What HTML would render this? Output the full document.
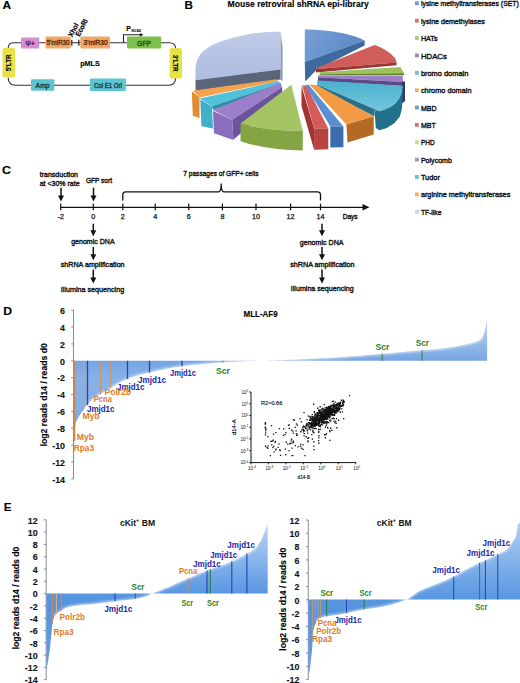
<!DOCTYPE html>
<html><head><meta charset="utf-8"><title>Figure</title>
<style>
html,body{margin:0;padding:0;background:#fff;}
body{width:520px;height:683px;overflow:hidden;}
svg{display:block;font-family:"Liberation Sans",sans-serif;}
</style></head><body>
<svg width="520" height="683" viewBox="0 0 520 683">
<defs>
<filter id="soft" x="-5%" y="-5%" width="110%" height="110%"><feGaussianBlur stdDeviation="0.9"/></filter>
<linearGradient id="gAq" gradientUnits="userSpaceOnUse" x1="0" y1="82" x2="0" y2="111">
 <stop offset="0" stop-color="#4cb2cf"/><stop offset="1" stop-color="#74c6dc"/></linearGradient>
<linearGradient id="gTF" gradientUnits="userSpaceOnUse" x1="0" y1="32" x2="0" y2="80">
 <stop offset="0" stop-color="#bfcbe8"/><stop offset="1" stop-color="#adbde0"/></linearGradient>
<linearGradient id="gSET" gradientUnits="userSpaceOnUse" x1="305" y1="30" x2="345" y2="60">
 <stop offset="0" stop-color="#77a0d6"/><stop offset="1" stop-color="#5d8bc8"/></linearGradient>
<linearGradient id="gD" gradientUnits="userSpaceOnUse" x1="0" y1="318" x2="0" y2="440">
 <stop offset="0" stop-color="#c4d8f4"/><stop offset="0.352" stop-color="#76a5e2"/><stop offset="0.5" stop-color="#88b2e8"/><stop offset="1" stop-color="#7eaae5"/></linearGradient>
<linearGradient id="gE1" gradientUnits="userSpaceOnUse" x1="0" y1="523" x2="0" y2="671">
 <stop offset="0" stop-color="#bcd6f6"/><stop offset="0.48" stop-color="#5896e2"/><stop offset="0.56" stop-color="#5592de"/><stop offset="1" stop-color="#6a9ee2"/></linearGradient>
<linearGradient id="gE2" gradientUnits="userSpaceOnUse" x1="0" y1="514" x2="0" y2="674">
 <stop offset="0" stop-color="#bcd6f6"/><stop offset="0.535" stop-color="#5896e2"/><stop offset="0.61" stop-color="#5592de"/><stop offset="1" stop-color="#6a9ee2"/></linearGradient>
</defs>
<rect width="520" height="683" fill="#fff"/>
<text x="2.60" y="9.20" font-size="11" fill="#000" stroke="#000" stroke-width="0.12" font-weight="bold" textLength="8.60" lengthAdjust="spacingAndGlyphs" >A</text>
<path d="M8.2,48 Q8.2,42.8 14,42.8 L169,42.8 Q175.6,42.8 175.6,48.5" fill="none" stroke="#333" stroke-width="1.1"/>
<path d="M8.2,77.5 Q8.2,85.2 15.5,85.2 L168.5,85.2 Q175.6,85.2 175.6,78" fill="none" stroke="#333" stroke-width="1.1"/>
<rect x="21" y="37.5" width="18.2" height="11" rx="1" fill="#d58ed0"/>
<text x="30.10" y="45.80" font-size="6.5" fill="#5a2a5a" stroke="#5a2a5a" stroke-width="0.4" text-anchor="middle" textLength="9.00" lengthAdjust="spacingAndGlyphs" >Ψ+</text>
<rect x="45.4" y="36.4" width="25.4" height="12.2" rx="1" fill="#f2a869"/>
<text x="58.10" y="45.40" font-size="7.2" fill="#5a3210" stroke="#5a3210" stroke-width="0.4" text-anchor="middle" textLength="23.00" lengthAdjust="spacingAndGlyphs" >5'miR30</text>
<rect x="80.3" y="36.4" width="29.7" height="12.2" rx="1" fill="#f2a869"/>
<text x="95.60" y="45.40" font-size="7.2" fill="#5a3210" stroke="#5a3210" stroke-width="0.4" text-anchor="middle" textLength="24.00" lengthAdjust="spacingAndGlyphs" >3'miR30</text>
<rect x="127" y="36.6" width="34.2" height="11.9" rx="1" fill="#7dc04d"/>
<text x="144.10" y="45.50" font-size="7.5" fill="#2c4a18" stroke="#2c4a18" stroke-width="0.4" text-anchor="middle" textLength="14.00" lengthAdjust="spacingAndGlyphs" >GFP</text>
<line x1="71.80" y1="39.80" x2="71.80" y2="45.80" stroke="#222" stroke-width="1.2" />
<line x1="78.80" y1="39.80" x2="78.80" y2="45.80" stroke="#222" stroke-width="1.2" />
<text transform="translate(72.30,37.60) rotate(-63)" x="0" y="0" font-size="7.2" fill="#000" stroke="#000" stroke-width="0.2" font-weight="bold" text-anchor="start" textLength="14.50" lengthAdjust="spacingAndGlyphs">XhoI</text>
<text transform="translate(79.60,37.00) rotate(-63)" x="0" y="0" font-size="7.2" fill="#000" stroke="#000" stroke-width="0.2" font-weight="bold" text-anchor="start" textLength="18.50" lengthAdjust="spacingAndGlyphs">EcoRI</text>
<path d="M123.5,42.8 V34.8 H140.5" fill="none" stroke="#222" stroke-width="1.1"/>
<polygon points="143.50,34.80 139.80,32.90 139.80,36.70" fill="#222" />
<text x="126.20" y="31.00" font-size="7" fill="#000" stroke="#000" stroke-width="0.12" font-weight="bold" textLength="4.60" lengthAdjust="spacingAndGlyphs" >P</text>
<text x="131.20" y="32.40" font-size="4.4" fill="#000" stroke="#000" stroke-width="0.05" font-weight="bold" textLength="9.80" lengthAdjust="spacingAndGlyphs" >SV40</text>
<rect x="2.5" y="48" width="12.6" height="29.6" rx="2" fill="#e8e246"/>
<text transform="translate(11.30,62.80) rotate(-90)" x="0" y="0" font-size="6.8" fill="#000" stroke="#000" stroke-width="0.12" font-weight="bold" text-anchor="middle" textLength="17.00" lengthAdjust="spacingAndGlyphs">5'LTR</text>
<rect x="169.6" y="48" width="12.4" height="30.4" rx="2" fill="#e8e246"/>
<text transform="translate(173.30,63.20) rotate(90)" x="0" y="0" font-size="6.8" fill="#000" stroke="#000" stroke-width="0.12" font-weight="bold" text-anchor="middle" textLength="17.00" lengthAdjust="spacingAndGlyphs">3'LTR</text>
<rect x="31" y="79.2" width="23.3" height="11.6" rx="1" fill="#5ec4d4"/>
<text x="42.60" y="87.80" font-size="7.2" fill="#17454c" stroke="#17454c" stroke-width="0.4" text-anchor="middle" textLength="14.00" lengthAdjust="spacingAndGlyphs" >Amp</text>
<rect x="89.9" y="78.4" width="36" height="12.6" rx="1" fill="#5ec4d4"/>
<text x="107.90" y="87.60" font-size="6.8" fill="#17454c" stroke="#17454c" stroke-width="0.4" text-anchor="middle" textLength="28.00" lengthAdjust="spacingAndGlyphs" >Col E1 Ori</text>
<text x="80.20" y="66.20" font-size="7.6" fill="#000" stroke="#000" stroke-width="0.12" font-weight="bold" textLength="19.60" lengthAdjust="spacingAndGlyphs" >pMLS</text>
<text x="184.60" y="9.00" font-size="11" fill="#000" stroke="#000" stroke-width="0.12" font-weight="bold" textLength="8.40" lengthAdjust="spacingAndGlyphs" >B</text>
<text x="227.60" y="7.20" font-size="8.6" fill="#000" stroke="#000" stroke-width="0.12" font-weight="bold" textLength="141.20" lengthAdjust="spacingAndGlyphs" >Mouse retroviral shRNA epi-library</text>
<polygon points="195.40,80.20 195.50,68.00 195.51,67.89 195.51,67.78 195.52,67.65 195.52,67.51 195.52,67.35 195.53,67.17 195.55,66.97 195.57,66.74 195.61,66.48 195.65,66.19 195.72,65.86 195.80,65.50 195.90,65.09 196.00,64.62 196.12,64.10 196.24,63.54 196.38,62.96 196.53,62.36 196.69,61.74 196.87,61.12 197.05,60.51 197.25,59.91 197.47,59.34 197.70,58.80 197.94,58.28 198.20,57.77 198.47,57.26 198.75,56.76 199.05,56.27 199.36,55.78 199.68,55.30 200.01,54.83 200.36,54.36 200.73,53.90 201.11,53.45 201.50,53.00 201.91,52.56 202.34,52.13 202.79,51.71 203.25,51.29 203.73,50.88 204.22,50.48 204.72,50.09 205.23,49.70 205.74,49.31 206.26,48.94 206.78,48.57 207.30,48.20 207.82,47.84 208.33,47.50 208.84,47.16 209.36,46.83 209.88,46.51 210.41,46.19 210.95,45.87 211.51,45.56 212.09,45.25 212.70,44.93 213.33,44.62 214.00,44.30 214.70,43.98 215.44,43.65 216.22,43.32 217.01,42.99 217.83,42.66 218.67,42.34 219.51,42.01 220.36,41.70 221.21,41.38 222.05,41.08 222.89,40.78 223.70,40.50 224.51,40.22 225.34,39.95 226.17,39.68 227.01,39.41 227.85,39.15 228.69,38.90 229.51,38.66 230.32,38.42 231.11,38.20 231.87,37.99 232.60,37.79 233.30,37.60 233.95,37.43 234.55,37.29 235.11,37.16 235.64,37.05 236.15,36.95 236.65,36.86 237.15,36.76 237.66,36.67 238.19,36.57 238.75,36.46 239.35,36.34 240.00,36.20 240.70,36.04 241.42,35.87 242.18,35.69 242.96,35.50 243.75,35.30 244.57,35.10 245.40,34.90 246.23,34.70 247.08,34.51 247.92,34.33 248.76,34.16 249.60,34.00 250.44,33.85 251.29,33.71 252.15,33.57 253.02,33.44 253.90,33.32 254.77,33.20 255.65,33.09 256.53,32.98 257.41,32.88 258.28,32.78 259.14,32.69 260.00,32.60 260.85,32.52 261.68,32.45 262.51,32.39 263.34,32.33 264.16,32.28 264.99,32.23 265.81,32.19 266.64,32.15 267.47,32.11 268.30,32.07 269.15,32.04 270.00,32.00 270.90,31.96 271.85,31.93 272.86,31.90 273.88,31.87 274.91,31.84 275.93,31.81 276.90,31.79 277.83,31.77 278.68,31.75 279.44,31.73 280.09,31.71 280.60,31.70 280.60,69.40" fill="url(#gTF)" />
<polygon points="195.40,80.20 280.60,69.40 280.60,79.60 195.70,90.80" fill="#5b6579" />
<polygon points="280.60,31.70 282.60,47.90 282.60,81.20 280.60,79.60" fill="#8f9ab0" />
<path d="M304.8,29.3 C318,29.6 332,31 344,33.6 C352,35.3 358.5,37.6 364.6,40.4 L304.8,62 Z" fill="url(#gSET)"/>
<polygon points="304.80,62.00 364.60,40.40 364.60,45.50 317.00,69.50 305.20,81.40" fill="#3d6a9c" />
<path d="M316,68.2 L374.6,45 C381,47 387,50.5 391,54 C394,56.5 396,59 396.5,62.4 L316,68.9 Z" fill="#cf5e5b"/>
<polygon points="316.00,68.90 396.50,62.40 396.50,65.20 316.00,72.50" fill="#9c3634" />
<polygon points="319.60,72.30 400.40,66.90 404.00,73.30 319.60,74.20" fill="#9cc15b" />
<polygon points="319.60,74.20 404.00,73.30 404.00,74.90 319.60,75.30" fill="#5e7d2a" />
<polygon points="318.00,75.40 402.80,75.40 402.80,82.00 318.00,77.20" fill="#9a80c6" />
<polygon points="318.00,77.20 402.80,82.00 402.80,86.00 318.00,81.00" fill="#5d4986" />
<polygon points="401.80,81.50 405.00,81.50 405.00,101.00 402.00,103.50" fill="#3a3466" />
<polygon points="317.20,80.60 403.00,85.80 402.70,88.00 401.50,93.00 398.80,99.20 395.50,103.20 392.10,106.00 388.00,108.20 384.40,109.80 379.60,111.25 317.20,84.60" fill="url(#gAq)" />
<polygon points="403.00,85.80 402.70,88.00 401.50,93.00 398.80,99.20 395.50,103.20 392.10,106.00 388.00,108.20 384.40,109.80 379.60,111.25 374.50,110.20 375.80,128.00 379.60,130.20 386.30,128.20 394.00,123.50 399.80,116.80 401.90,108.80 402.60,96.00 403.00,85.80" fill="#22708a" />
<polygon points="317.20,84.60 379.60,111.25 374.50,110.20 374.50,116.50 317.20,87.20" fill="#2b6f87" />
<polygon points="192.80,90.80 276.50,79.30 278.40,81.20 199.50,97.60" fill="#f5a24c" />
<polygon points="191.80,91.60 199.50,97.60 199.50,118.00 192.80,115.80" fill="#e38b2e" />
<polygon points="199.50,98.40 278.40,81.30 280.30,83.30 212.00,106.20" fill="#4fc1da" />
<polygon points="212.00,106.20 280.30,83.30 280.30,86.00 213.00,110.00" fill="#2f8ea6" />
<polygon points="200.30,99.40 212.00,106.60 213.00,128.40 201.40,126.30" fill="#3fb0c8" />
<polygon points="213.00,110.20 280.30,82.60 282.20,87.00 232.20,119.70" fill="#9c7fcb" />
<polygon points="232.20,119.70 282.20,87.00 282.20,96.50 233.40,139.80" fill="#6c549c" />
<polygon points="213.00,111.00 232.20,119.70 233.40,139.90 214.00,133.20" fill="#8a6dbb" />
<path d="M240.5,123.5 L291.3,84.7 L302.8,130.8 Q268,131.5 240.5,123.5 Z" fill="#a5c565"/>
<path d="M240.5,123.5 Q268,131.5 302.8,130.8 L302.8,150.6 Q268,150.5 240.5,141.2 Z" fill="#83a544"/>
<polygon points="301.50,86.00 314.10,128.50 314.10,149.80 301.50,106.00" fill="#a23434" />
<polygon points="302.20,85.60 306.20,85.60 328.30,128.50 314.10,128.50" fill="#d35c58" />
<polygon points="314.10,128.50 328.30,128.50 328.30,149.20 314.10,149.80" fill="#b84240" />
<polygon points="305.20,85.20 308.40,84.40 343.40,126.60 330.30,126.60" fill="#5b8fd2" />
<polygon points="330.30,126.60 343.40,126.60 343.40,147.20 330.30,147.60" fill="#3a6cae" />
<polygon points="309.20,84.20 317.20,85.20 373.70,116.40 346.40,124.60" fill="#f39a45" />
<polygon points="346.40,124.60 373.70,116.40 373.70,134.60 347.50,142.60" fill="#b46a22" />
<rect x="415" y="1.40" width="3.8" height="3.8" fill="#4f81bd" fill-opacity="0.8"/>
<text x="420.90" y="6.40" font-size="7.8" fill="#111" stroke="#111" stroke-width="0.4" textLength="98.00" lengthAdjust="spacingAndGlyphs" >lysine methyltransferases (SET)</text>
<rect x="415" y="18.77" width="3.8" height="3.8" fill="#c0504d" fill-opacity="0.8"/>
<text x="420.90" y="23.77" font-size="7.8" fill="#111" stroke="#111" stroke-width="0.4" textLength="64.00" lengthAdjust="spacingAndGlyphs" >lysine demethylases</text>
<rect x="415" y="36.14" width="3.8" height="3.8" fill="#9bbb59" fill-opacity="0.8"/>
<text x="420.90" y="41.14" font-size="7.8" fill="#111" stroke="#111" stroke-width="0.4" textLength="16.60" lengthAdjust="spacingAndGlyphs" >HATs</text>
<rect x="415" y="53.51" width="3.8" height="3.8" fill="#8064a2" fill-opacity="0.8"/>
<text x="420.90" y="58.51" font-size="7.8" fill="#111" stroke="#111" stroke-width="0.4" textLength="26.00" lengthAdjust="spacingAndGlyphs" >HDACs</text>
<rect x="415" y="70.88" width="3.8" height="3.8" fill="#4bacc6" fill-opacity="0.8"/>
<text x="420.90" y="75.88" font-size="7.8" fill="#111" stroke="#111" stroke-width="0.4" textLength="47.40" lengthAdjust="spacingAndGlyphs" >bromo domain</text>
<rect x="415" y="88.25" width="3.8" height="3.8" fill="#f79646" fill-opacity="0.8"/>
<text x="420.90" y="93.25" font-size="7.8" fill="#111" stroke="#111" stroke-width="0.4" textLength="50.60" lengthAdjust="spacingAndGlyphs" >chromo domain</text>
<rect x="415" y="105.62" width="3.8" height="3.8" fill="#4f81bd" fill-opacity="0.8"/>
<text x="420.90" y="110.62" font-size="7.8" fill="#111" stroke="#111" stroke-width="0.4" textLength="15.60" lengthAdjust="spacingAndGlyphs" >MBD</text>
<rect x="415" y="122.99" width="3.8" height="3.8" fill="#c0504d" fill-opacity="0.8"/>
<text x="420.90" y="127.99" font-size="7.8" fill="#111" stroke="#111" stroke-width="0.4" textLength="14.90" lengthAdjust="spacingAndGlyphs" >MBT</text>
<rect x="415" y="140.36" width="3.8" height="3.8" fill="#b8d08a" fill-opacity="0.8"/>
<text x="420.90" y="145.36" font-size="7.8" fill="#111" stroke="#111" stroke-width="0.4" textLength="13.70" lengthAdjust="spacingAndGlyphs" >PHD</text>
<rect x="415" y="157.73" width="3.8" height="3.8" fill="#8a7cab" fill-opacity="0.8"/>
<text x="420.90" y="162.73" font-size="7.8" fill="#111" stroke="#111" stroke-width="0.4" textLength="31.00" lengthAdjust="spacingAndGlyphs" >Polycomb</text>
<rect x="415" y="175.10" width="3.8" height="3.8" fill="#4bacc6" fill-opacity="0.8"/>
<text x="420.90" y="180.10" font-size="7.8" fill="#111" stroke="#111" stroke-width="0.4" textLength="19.00" lengthAdjust="spacingAndGlyphs" >Tudor</text>
<rect x="415" y="192.47" width="3.8" height="3.8" fill="#f79646" fill-opacity="0.8"/>
<text x="420.90" y="197.47" font-size="7.8" fill="#111" stroke="#111" stroke-width="0.4" textLength="89.40" lengthAdjust="spacingAndGlyphs" >arginine methyltransferases</text>
<rect x="415" y="209.84" width="3.8" height="3.8" fill="#b9c9e3" fill-opacity="0.8"/>
<text x="420.90" y="214.84" font-size="7.8" fill="#111" stroke="#111" stroke-width="0.4" textLength="20.60" lengthAdjust="spacingAndGlyphs" >TF-like</text>
<text x="2.00" y="174.30" font-size="11.6" fill="#000" stroke="#000" stroke-width="0.12" font-weight="bold" textLength="9.00" lengthAdjust="spacingAndGlyphs" >C</text>
<text x="39.70" y="177.20" font-size="7.8" fill="#111" stroke="#111" stroke-width="0.4" textLength="38.30" lengthAdjust="spacingAndGlyphs" >transduction</text>
<text x="39.70" y="185.60" font-size="7.8" fill="#111" stroke="#111" stroke-width="0.4" textLength="39.90" lengthAdjust="spacingAndGlyphs" >at &lt;30% rate</text>
<text x="85.90" y="183.00" font-size="7.8" fill="#111" stroke="#111" stroke-width="0.4" textLength="26.10" lengthAdjust="spacingAndGlyphs" >GFP sort</text>
<text x="183.30" y="176.20" font-size="7.8" fill="#111" stroke="#111" stroke-width="0.4" textLength="75.20" lengthAdjust="spacingAndGlyphs" >7 passages of GFP+ cells</text>
<line x1="61.00" y1="187.70" x2="61.00" y2="196.50" stroke="#111" stroke-width="1.5" />
<polygon points="58.00,195.50 64.00,195.50 61.00,201.50" fill="#111" />
<line x1="93.50" y1="187.70" x2="93.50" y2="196.50" stroke="#111" stroke-width="1.5" />
<polygon points="90.50,195.50 96.50,195.50 93.50,201.50" fill="#111" />
<line x1="60.20" y1="207.30" x2="364.00" y2="207.30" stroke="#111" stroke-width="1.3" />
<polygon points="369.50,207.30 362.50,204.00 362.50,210.60" fill="#111" />
<line x1="60.70" y1="203.60" x2="60.70" y2="210.20" stroke="#111" stroke-width="1.2" />
<text x="60.70" y="219.40" font-size="7.2" fill="#111" stroke="#111" stroke-width="0.25" text-anchor="middle" >-2</text>
<line x1="93.30" y1="203.60" x2="93.30" y2="210.20" stroke="#111" stroke-width="1.2" />
<text x="93.30" y="219.40" font-size="7.2" fill="#111" stroke="#111" stroke-width="0.25" text-anchor="middle" >0</text>
<line x1="122.80" y1="203.60" x2="122.80" y2="210.20" stroke="#111" stroke-width="1.2" />
<text x="122.80" y="219.40" font-size="7.2" fill="#111" stroke="#111" stroke-width="0.25" text-anchor="middle" >2</text>
<line x1="155.20" y1="203.60" x2="155.20" y2="210.20" stroke="#111" stroke-width="1.2" />
<text x="155.20" y="219.40" font-size="7.2" fill="#111" stroke="#111" stroke-width="0.25" text-anchor="middle" >4</text>
<line x1="188.80" y1="203.60" x2="188.80" y2="210.20" stroke="#111" stroke-width="1.2" />
<text x="188.80" y="219.40" font-size="7.2" fill="#111" stroke="#111" stroke-width="0.25" text-anchor="middle" >6</text>
<line x1="222.40" y1="203.60" x2="222.40" y2="210.20" stroke="#111" stroke-width="1.2" />
<text x="222.40" y="219.40" font-size="7.2" fill="#111" stroke="#111" stroke-width="0.25" text-anchor="middle" >8</text>
<line x1="256.00" y1="203.60" x2="256.00" y2="210.20" stroke="#111" stroke-width="1.2" />
<text x="256.00" y="219.40" font-size="7.2" fill="#111" stroke="#111" stroke-width="0.25" text-anchor="middle" >10</text>
<line x1="290.60" y1="203.60" x2="290.60" y2="210.20" stroke="#111" stroke-width="1.2" />
<text x="290.60" y="219.40" font-size="7.2" fill="#111" stroke="#111" stroke-width="0.25" text-anchor="middle" >12</text>
<line x1="320.50" y1="203.60" x2="320.50" y2="210.20" stroke="#111" stroke-width="1.2" />
<text x="320.50" y="219.40" font-size="7.2" fill="#111" stroke="#111" stroke-width="0.25" text-anchor="middle" >14</text>
<text x="342.70" y="219.00" font-size="7.6" fill="#111" stroke="#111" stroke-width="0.4" textLength="14.80" lengthAdjust="spacingAndGlyphs" >Days</text>
<path d="M122.8,200.5 V194.8 Q122.8,191.9 125.8,191.9 H218.6 Q221.2,191.9 221.2,183.5 Q221.2,191.9 223.8,191.9 H317.5 Q320.5,191.9 320.5,194.8 V200.5" fill="none" stroke="#111" stroke-width="1.3"/>
<line x1="93.30" y1="223.70" x2="93.30" y2="231.30" stroke="#111" stroke-width="1.5" />
<polygon points="90.30,230.30 96.30,230.30 93.30,236.30" fill="#111" />
<line x1="93.30" y1="246.90" x2="93.30" y2="255.20" stroke="#111" stroke-width="1.5" />
<polygon points="90.30,254.20 96.30,254.20 93.30,260.20" fill="#111" />
<line x1="93.30" y1="269.60" x2="93.30" y2="278.40" stroke="#111" stroke-width="1.5" />
<polygon points="90.30,277.40 96.30,277.40 93.30,283.40" fill="#111" />
<line x1="322.00" y1="223.70" x2="322.00" y2="231.30" stroke="#111" stroke-width="1.5" />
<polygon points="319.00,230.30 325.00,230.30 322.00,236.30" fill="#111" />
<line x1="322.00" y1="246.90" x2="322.00" y2="255.20" stroke="#111" stroke-width="1.5" />
<polygon points="319.00,254.20 325.00,254.20 322.00,260.20" fill="#111" />
<line x1="322.00" y1="269.60" x2="322.00" y2="278.40" stroke="#111" stroke-width="1.5" />
<polygon points="319.00,277.40 325.00,277.40 322.00,283.40" fill="#111" />
<text x="71.20" y="244.00" font-size="7.8" fill="#111" stroke="#111" stroke-width="0.4" textLength="43.40" lengthAdjust="spacingAndGlyphs" >genomic DNA</text>
<text x="60.80" y="267.30" font-size="7.8" fill="#111" stroke="#111" stroke-width="0.4" textLength="63.80" lengthAdjust="spacingAndGlyphs" >shRNA amplification</text>
<text x="60.80" y="292.00" font-size="7.8" fill="#111" stroke="#111" stroke-width="0.4" textLength="63.40" lengthAdjust="spacingAndGlyphs" >Illumina sequencing</text>
<text x="299.80" y="244.60" font-size="7.8" fill="#111" stroke="#111" stroke-width="0.4" textLength="43.70" lengthAdjust="spacingAndGlyphs" >genomic DNA</text>
<text x="290.20" y="267.10" font-size="7.8" fill="#111" stroke="#111" stroke-width="0.4" textLength="64.40" lengthAdjust="spacingAndGlyphs" >shRNA amplification</text>
<text x="290.80" y="291.40" font-size="7.8" fill="#111" stroke="#111" stroke-width="0.4" textLength="62.90" lengthAdjust="spacingAndGlyphs" >Illumina sequencing</text>
<text x="3.20" y="314.60" font-size="11" fill="#000" stroke="#000" stroke-width="0.12" font-weight="bold" textLength="8.80" lengthAdjust="spacingAndGlyphs" >D</text>
<text x="243.50" y="317.40" font-size="9" fill="#000" stroke="#000" stroke-width="0.12" font-weight="bold" textLength="34.20" lengthAdjust="spacingAndGlyphs" >MLL-AF9</text>
<line x1="73.50" y1="310.16" x2="73.50" y2="478.96" stroke="#8c8c8c" stroke-width="1" />
<line x1="71.20" y1="310.16" x2="73.50" y2="310.16" stroke="#8c8c8c" stroke-width="1" />
<text x="65.00" y="313.86" font-size="8.9" fill="#111" stroke="#111" stroke-width="0.12" font-weight="bold" text-anchor="end" >6</text>
<line x1="71.20" y1="327.04" x2="73.50" y2="327.04" stroke="#8c8c8c" stroke-width="1" />
<text x="65.00" y="330.74" font-size="8.9" fill="#111" stroke="#111" stroke-width="0.12" font-weight="bold" text-anchor="end" >4</text>
<line x1="71.20" y1="343.92" x2="73.50" y2="343.92" stroke="#8c8c8c" stroke-width="1" />
<text x="65.00" y="347.62" font-size="8.9" fill="#111" stroke="#111" stroke-width="0.12" font-weight="bold" text-anchor="end" >2</text>
<line x1="71.20" y1="360.80" x2="73.50" y2="360.80" stroke="#8c8c8c" stroke-width="1" />
<text x="65.00" y="364.50" font-size="8.9" fill="#111" stroke="#111" stroke-width="0.12" font-weight="bold" text-anchor="end" >0</text>
<line x1="71.20" y1="377.68" x2="73.50" y2="377.68" stroke="#8c8c8c" stroke-width="1" />
<text x="65.00" y="381.38" font-size="8.9" fill="#111" stroke="#111" stroke-width="0.12" font-weight="bold" text-anchor="end" >-2</text>
<line x1="71.20" y1="394.56" x2="73.50" y2="394.56" stroke="#8c8c8c" stroke-width="1" />
<text x="65.00" y="398.26" font-size="8.9" fill="#111" stroke="#111" stroke-width="0.12" font-weight="bold" text-anchor="end" >-4</text>
<line x1="71.20" y1="411.44" x2="73.50" y2="411.44" stroke="#8c8c8c" stroke-width="1" />
<text x="65.00" y="415.14" font-size="8.9" fill="#111" stroke="#111" stroke-width="0.12" font-weight="bold" text-anchor="end" >-6</text>
<line x1="71.20" y1="428.32" x2="73.50" y2="428.32" stroke="#8c8c8c" stroke-width="1" />
<text x="65.00" y="432.02" font-size="8.9" fill="#111" stroke="#111" stroke-width="0.12" font-weight="bold" text-anchor="end" >-8</text>
<line x1="71.20" y1="445.20" x2="73.50" y2="445.20" stroke="#8c8c8c" stroke-width="1" />
<text x="65.00" y="448.90" font-size="8.9" fill="#111" stroke="#111" stroke-width="0.12" font-weight="bold" text-anchor="end" >-10</text>
<line x1="71.20" y1="462.08" x2="73.50" y2="462.08" stroke="#8c8c8c" stroke-width="1" />
<text x="65.00" y="465.78" font-size="8.9" fill="#111" stroke="#111" stroke-width="0.12" font-weight="bold" text-anchor="end" >-12</text>
<line x1="71.20" y1="478.96" x2="73.50" y2="478.96" stroke="#8c8c8c" stroke-width="1" />
<text x="65.00" y="482.66" font-size="8.9" fill="#111" stroke="#111" stroke-width="0.12" font-weight="bold" text-anchor="end" >-14</text>
<text transform="translate(46.50,394.80) rotate(-90)" x="0" y="0" font-size="8.6" fill="#000" stroke="#000" stroke-width="0.12" font-weight="bold" text-anchor="middle" textLength="103.00" lengthAdjust="spacingAndGlyphs">log2 reads d14 / reads d0</text>
<path d="M73.80,360.80 L73.80,433.00 L73.86,432.60 L73.92,432.09 L74.00,431.49 L74.08,430.81 L74.17,430.08 L74.27,429.31 L74.38,428.53 L74.50,427.74 L74.62,426.98 L74.74,426.25 L74.87,425.59 L75.00,425.00 L75.14,424.48 L75.28,423.99 L75.42,423.54 L75.57,423.11 L75.73,422.70 L75.89,422.31 L76.06,421.93 L76.23,421.56 L76.41,421.18 L76.60,420.80 L76.80,420.41 L77.00,420.00 L77.21,419.59 L77.43,419.18 L77.66,418.77 L77.89,418.37 L78.13,417.97 L78.38,417.56 L78.63,417.15 L78.89,416.74 L79.16,416.32 L79.43,415.89 L79.71,415.45 L80.00,415.00 L80.30,414.53 L80.61,414.03 L80.94,413.52 L81.28,413.00 L81.62,412.47 L81.97,411.94 L82.32,411.41 L82.67,410.89 L83.01,410.38 L83.35,409.90 L83.68,409.43 L84.00,409.00 L84.31,408.60 L84.60,408.23 L84.89,407.88 L85.17,407.56 L85.44,407.24 L85.72,406.94 L86.00,406.64 L86.28,406.33 L86.57,406.02 L86.86,405.70 L87.17,405.36 L87.50,405.00 L87.83,404.62 L88.15,404.23 L88.47,403.83 L88.80,403.43 L89.13,403.01 L89.47,402.59 L89.83,402.17 L90.20,401.74 L90.61,401.31 L91.04,400.87 L91.50,400.44 L92.00,400.00 L92.54,399.56 L93.11,399.12 L93.71,398.67 L94.33,398.22 L94.98,397.77 L95.66,397.31 L96.35,396.85 L97.06,396.39 L97.78,395.92 L98.51,395.45 L99.25,394.98 L100.00,394.50 L100.74,394.03 L101.46,393.57 L102.18,393.12 L102.91,392.67 L103.65,392.21 L104.41,391.75 L105.20,391.27 L106.04,390.78 L106.93,390.26 L107.88,389.71 L108.90,389.12 L110.00,388.50 L111.18,387.82 L112.43,387.08 L113.74,386.30 L115.11,385.48 L116.53,384.64 L118.00,383.78 L119.51,382.92 L121.06,382.07 L122.63,381.25 L124.24,380.45 L125.86,379.70 L127.50,379.00 L129.14,378.35 L130.78,377.74 L132.44,377.16 L134.11,376.60 L135.82,376.07 L137.56,375.55 L139.36,375.04 L141.22,374.54 L143.16,374.04 L145.17,373.54 L147.28,373.03 L149.50,372.50 L151.82,371.96 L154.25,371.41 L156.76,370.85 L159.35,370.29 L162.02,369.72 L164.75,369.17 L167.54,368.62 L170.37,368.09 L173.24,367.58 L176.14,367.09 L179.07,366.63 L182.00,366.20 L185.02,365.80 L188.17,365.42 L191.42,365.06 L194.74,364.71 L198.10,364.39 L201.47,364.09 L204.81,363.80 L208.09,363.53 L211.29,363.27 L214.36,363.04 L217.27,362.81 L220.00,362.60 L222.58,362.41 L225.06,362.24 L227.45,362.09 L229.74,361.97 L231.95,361.85 L234.06,361.76 L236.09,361.67 L238.04,361.59 L239.90,361.51 L241.68,361.44 L243.38,361.37 L245.00,361.30 L246.54,361.23 L248.01,361.16 L249.40,361.11 L250.70,361.06 L251.93,361.01 L253.06,360.97 L254.11,360.93 L255.07,360.90 L255.95,360.87 L256.72,360.85 L257.41,360.82 L258.00,360.80 L258.80,360.78 L259.76,360.76 L260.87,360.74 L262.11,360.72 L263.47,360.69 L264.94,360.66 L266.49,360.63 L268.11,360.59 L269.79,360.55 L271.51,360.51 L273.25,360.46 L275.00,360.40 L276.76,360.34 L278.53,360.28 L280.34,360.22 L282.19,360.15 L284.09,360.08 L286.06,360.01 L288.11,359.93 L290.26,359.84 L292.51,359.74 L294.87,359.64 L297.37,359.52 L300.00,359.40 L302.80,359.27 L305.78,359.13 L308.90,358.99 L312.15,358.83 L315.50,358.67 L318.94,358.51 L322.43,358.33 L325.96,358.14 L329.51,357.95 L333.04,357.74 L336.55,357.53 L340.00,357.30 L343.44,357.06 L346.91,356.80 L350.41,356.52 L353.93,356.24 L357.46,355.94 L361.00,355.64 L364.54,355.33 L368.07,355.02 L371.59,354.71 L375.09,354.40 L378.56,354.10 L382.00,353.80 L385.47,353.50 L389.04,353.19 L392.66,352.88 L396.30,352.56 L399.92,352.24 L403.50,351.93 L406.99,351.62 L410.37,351.32 L413.59,351.03 L416.63,350.77 L419.44,350.52 L422.00,350.30 L424.26,350.11 L426.25,349.95 L428.00,349.82 L429.56,349.71 L430.96,349.62 L432.25,349.53 L433.47,349.44 L434.67,349.35 L435.88,349.25 L437.14,349.13 L438.50,348.98 L440.00,348.80 L441.61,348.59 L443.28,348.37 L444.98,348.13 L446.70,347.87 L448.44,347.61 L450.19,347.33 L451.92,347.05 L453.63,346.76 L455.30,346.47 L456.93,346.18 L458.50,345.89 L460.00,345.60 L461.45,345.31 L462.89,345.02 L464.31,344.71 L465.70,344.41 L467.06,344.10 L468.38,343.79 L469.64,343.48 L470.85,343.17 L472.00,342.87 L473.08,342.57 L474.08,342.28 L475.00,342.00 L475.83,341.73 L476.56,341.48 L477.21,341.23 L477.80,340.99 L478.32,340.76 L478.78,340.52 L479.20,340.29 L479.59,340.05 L479.96,339.81 L480.31,339.55 L480.65,339.28 L481.00,339.00 L481.33,338.71 L481.62,338.43 L481.88,338.14 L482.11,337.85 L482.32,337.56 L482.50,337.25 L482.67,336.93 L482.83,336.59 L482.99,336.23 L483.15,335.85 L483.32,335.44 L483.50,335.00 L483.69,334.52 L483.87,334.00 L484.06,333.44 L484.24,332.85 L484.41,332.25 L484.59,331.62 L484.76,331.00 L484.92,330.37 L485.07,329.75 L485.22,329.14 L485.37,328.56 L485.50,328.00 L485.63,327.46 L485.74,326.92 L485.85,326.38 L485.96,325.85 L486.05,325.33 L486.14,324.81 L486.23,324.31 L486.31,323.81 L486.39,323.34 L486.46,322.87 L486.53,322.43 L486.60,322.00 L486.66,321.58 L486.72,321.17 L486.78,320.77 L486.83,320.37 L486.88,319.99 L486.92,319.62 L486.96,319.28 L486.99,318.96 L487.02,318.67 L487.05,318.41 L487.08,318.19 L487.10,318.00 L487.10,360.80 Z" fill="url(#gD)"/>
<path d="M84.89,407.88 L85.17,407.56 L85.44,407.24 L85.72,406.94 L86.00,406.64 L86.28,406.33 L86.57,406.02 L86.86,405.70 L87.17,405.36 L87.50,405.00 L87.83,404.62" fill="none" stroke="#fff" stroke-opacity="0.6" stroke-width="2.2" stroke-linecap="round" filter="url(#soft)"/>
<path d="M89.47,402.59 L89.83,402.17 L90.20,401.74 L90.61,401.31 L91.04,400.87 L91.50,400.44 L92.00,400.00 L92.54,399.56 L93.11,399.12 L93.71,398.67 L94.33,398.22 L94.98,397.77 L95.66,397.31 L96.35,396.85 L97.06,396.39 L97.78,395.92 L98.51,395.45 L99.25,394.98 L100.00,394.50 L100.74,394.03 L101.46,393.57 L102.18,393.12 L102.91,392.67 L103.65,392.21 L104.41,391.75 L105.20,391.27 L106.04,390.78 L106.93,390.26 L107.88,389.71 L108.90,389.12 L110.00,388.50 L111.18,387.82 L112.43,387.08 L113.74,386.30 L115.11,385.48 L116.53,384.64 L118.00,383.78 L119.51,382.92 L121.06,382.07 L122.63,381.25 L124.24,380.45 L125.86,379.70 L127.50,379.00 L129.14,378.35 L130.78,377.74 L132.44,377.16 L134.11,376.60 L135.82,376.07 L137.56,375.55 L139.36,375.04 L141.22,374.54 L143.16,374.04 L145.17,373.54 L147.28,373.03 L149.50,372.50 L151.82,371.96 L154.25,371.41 L156.76,370.85 L159.35,370.29 L162.02,369.72 L164.75,369.17 L167.54,368.62 L170.37,368.09 L173.24,367.58 L176.14,367.09 L179.07,366.63 L182.00,366.20 L185.02,365.80 L188.17,365.42 L191.42,365.06 L194.74,364.71 L198.10,364.39 L201.47,364.09 L204.81,363.80 L208.09,363.53 L211.29,363.27 L214.36,363.04 L217.27,362.81 L220.00,362.60 L222.58,362.41 L225.06,362.24 L227.45,362.09 L229.74,361.97 L231.95,361.85 L234.06,361.76 L236.09,361.67 L238.04,361.59 L239.90,361.51 L241.68,361.44 L243.38,361.37 L245.00,361.30 L246.54,361.23 L248.01,361.16 L249.40,361.11 L250.70,361.06 L251.93,361.01 L253.06,360.97 L254.11,360.93 L255.07,360.90 L255.95,360.87 L256.72,360.85 L257.41,360.82 L258.00,360.80 L258.80,360.78 L259.76,360.76 L260.87,360.74 L262.11,360.72 L263.47,360.69 L264.94,360.66 L266.49,360.63 L268.11,360.59 L269.79,360.55 L271.51,360.51 L273.25,360.46 L275.00,360.40 L276.76,360.34 L278.53,360.28 L280.34,360.22 L282.19,360.15 L284.09,360.08 L286.06,360.01 L288.11,359.93 L290.26,359.84 L292.51,359.74 L294.87,359.64 L297.37,359.52 L300.00,359.40 L302.80,359.27 L305.78,359.13 L308.90,358.99 L312.15,358.83 L315.50,358.67 L318.94,358.51 L322.43,358.33 L325.96,358.14 L329.51,357.95 L333.04,357.74 L336.55,357.53 L340.00,357.30 L343.44,357.06 L346.91,356.80 L350.41,356.52 L353.93,356.24 L357.46,355.94 L361.00,355.64 L364.54,355.33 L368.07,355.02 L371.59,354.71 L375.09,354.40 L378.56,354.10 L382.00,353.80 L385.47,353.50 L389.04,353.19 L392.66,352.88 L396.30,352.56 L399.92,352.24 L403.50,351.93 L406.99,351.62 L410.37,351.32 L413.59,351.03 L416.63,350.77 L419.44,350.52 L422.00,350.30 L424.26,350.11 L426.25,349.95 L428.00,349.82 L429.56,349.71 L430.96,349.62 L432.25,349.53 L433.47,349.44 L434.67,349.35 L435.88,349.25 L437.14,349.13 L438.50,348.98 L440.00,348.80 L441.61,348.59 L443.28,348.37 L444.98,348.13 L446.70,347.87 L448.44,347.61 L450.19,347.33 L451.92,347.05 L453.63,346.76 L455.30,346.47 L456.93,346.18 L458.50,345.89 L460.00,345.60 L461.45,345.31 L462.89,345.02 L464.31,344.71 L465.70,344.41 L467.06,344.10 L468.38,343.79 L469.64,343.48 L470.85,343.17 L472.00,342.87 L473.08,342.57 L474.08,342.28 L475.00,342.00 L475.83,341.73 L476.56,341.48 L477.21,341.23 L477.80,340.99 L478.32,340.76 L478.78,340.52 L479.20,340.29 L479.59,340.05 L479.96,339.81 L480.31,339.55 L480.65,339.28 L481.00,339.00 L481.33,338.71 L481.62,338.43 L481.88,338.14" fill="none" stroke="#fff" stroke-opacity="0.6" stroke-width="2.2" stroke-linecap="round" filter="url(#soft)"/>
<line x1="74.60" y1="360.80" x2="74.60" y2="427.08" stroke="#d4894a" stroke-width="1.2" />
<line x1="83.80" y1="360.80" x2="83.80" y2="409.27" stroke="#c0a48c" stroke-width="1.2" />
<line x1="87.50" y1="360.80" x2="87.50" y2="405.00" stroke="#2444b4" stroke-width="1.3" />
<line x1="100.50" y1="360.80" x2="100.50" y2="394.18" stroke="#c8966a" stroke-width="1.2" />
<line x1="110.50" y1="360.80" x2="110.50" y2="388.21" stroke="#c8966a" stroke-width="1.2" />
<line x1="127.50" y1="360.80" x2="127.50" y2="379.00" stroke="#2444b4" stroke-width="1.3" />
<line x1="149.50" y1="360.80" x2="149.50" y2="372.50" stroke="#2444b4" stroke-width="1.3" />
<line x1="182.00" y1="360.80" x2="182.00" y2="366.20" stroke="#2444b4" stroke-width="1.3" />
<line x1="74.60" y1="360.80" x2="74.60" y2="441.00" stroke="#d4894a" stroke-width="1.4" />
<line x1="223.00" y1="360.80" x2="223.00" y2="362.38" stroke="#2f7f3f" stroke-width="1" />
<line x1="382.20" y1="360.80" x2="382.20" y2="353.78" stroke="#2f7f3f" stroke-width="1" />
<line x1="422.00" y1="360.80" x2="422.00" y2="350.30" stroke="#2f7f3f" stroke-width="1" />
<text x="170.00" y="375.80" font-size="8.8" fill="#2424aa" font-weight="bold" textLength="26.00" lengthAdjust="spacingAndGlyphs" >Jmjd1c</text>
<text x="138.00" y="382.90" font-size="8.8" fill="#2424aa" font-weight="bold" textLength="28.00" lengthAdjust="spacingAndGlyphs" >Jmjd1c</text>
<text x="117.00" y="389.80" font-size="8.8" fill="#2424aa" font-weight="bold" textLength="27.50" lengthAdjust="spacingAndGlyphs" >Jmjd1c</text>
<text x="104.50" y="395.20" font-size="8.8" fill="#e07a28" font-weight="bold" textLength="26.50" lengthAdjust="spacingAndGlyphs" >Polr2b</text>
<text x="93.80" y="402.20" font-size="8.8" fill="#e07a28" font-weight="bold" textLength="18.20" lengthAdjust="spacingAndGlyphs" >Pcna</text>
<text x="87.00" y="412.00" font-size="8.8" fill="#2424aa" font-weight="bold" textLength="27.50" lengthAdjust="spacingAndGlyphs" >Jmjd1c</text>
<text x="82.50" y="418.80" font-size="8.8" fill="#e07a28" font-weight="bold" textLength="17.30" lengthAdjust="spacingAndGlyphs" >Myb</text>
<text x="76.70" y="440.20" font-size="8.8" fill="#e07a28" font-weight="bold" textLength="17.30" lengthAdjust="spacingAndGlyphs" >Myb</text>
<text x="73.80" y="450.80" font-size="8.8" fill="#e07a28" font-weight="bold" textLength="20.20" lengthAdjust="spacingAndGlyphs" >Rpa3</text>
<text x="216.00" y="373.80" font-size="8.8" fill="#2a822a" font-weight="bold" textLength="14.00" lengthAdjust="spacingAndGlyphs" >Scr</text>
<text x="375.40" y="350.20" font-size="8.8" fill="#2a822a" font-weight="bold" textLength="14.00" lengthAdjust="spacingAndGlyphs" >Scr</text>
<text x="415.80" y="345.60" font-size="8.8" fill="#2a822a" font-weight="bold" textLength="13.20" lengthAdjust="spacingAndGlyphs" >Scr</text>
<line x1="251.00" y1="392.00" x2="251.00" y2="462.60" stroke="#111" stroke-width="1" />
<line x1="251.00" y1="462.60" x2="356.00" y2="462.60" stroke="#111" stroke-width="1" />
<line x1="249.20" y1="392.00" x2="251.00" y2="392.00" stroke="#111" stroke-width="0.9" />
<text x="248.40" y="393.80" font-size="4.6" text-anchor="end" fill="#111">10<tspan dy="-1.8" font-size="3.2">2</tspan></text>
<line x1="249.20" y1="403.80" x2="251.00" y2="403.80" stroke="#111" stroke-width="0.9" />
<text x="248.40" y="405.60" font-size="4.6" text-anchor="end" fill="#111">10<tspan dy="-1.8" font-size="3.2">1</tspan></text>
<line x1="249.20" y1="415.60" x2="251.00" y2="415.60" stroke="#111" stroke-width="0.9" />
<text x="248.40" y="417.40" font-size="4.6" text-anchor="end" fill="#111">10<tspan dy="-1.8" font-size="3.2">0</tspan></text>
<line x1="249.20" y1="427.20" x2="251.00" y2="427.20" stroke="#111" stroke-width="0.9" />
<text x="248.40" y="429.00" font-size="4.6" text-anchor="end" fill="#111">10<tspan dy="-1.8" font-size="3.2">-1</tspan></text>
<line x1="249.20" y1="438.90" x2="251.00" y2="438.90" stroke="#111" stroke-width="0.9" />
<text x="248.40" y="440.70" font-size="4.6" text-anchor="end" fill="#111">10<tspan dy="-1.8" font-size="3.2">-2</tspan></text>
<line x1="249.20" y1="450.70" x2="251.00" y2="450.70" stroke="#111" stroke-width="0.9" />
<text x="248.40" y="452.50" font-size="4.6" text-anchor="end" fill="#111">10<tspan dy="-1.8" font-size="3.2">-3</tspan></text>
<line x1="249.20" y1="462.60" x2="251.00" y2="462.60" stroke="#111" stroke-width="0.9" />
<text x="248.40" y="464.40" font-size="4.6" text-anchor="end" fill="#111">10<tspan dy="-1.8" font-size="3.2">-4</tspan></text>
<line x1="251.00" y1="462.60" x2="251.00" y2="464.40" stroke="#111" stroke-width="0.9" />
<text x="252.00" y="469.60" font-size="4.6" text-anchor="middle" fill="#111">10<tspan dy="-1.8" font-size="3.2">-4</tspan></text>
<line x1="268.40" y1="462.60" x2="268.40" y2="464.40" stroke="#111" stroke-width="0.9" />
<text x="269.40" y="469.60" font-size="4.6" text-anchor="middle" fill="#111">10<tspan dy="-1.8" font-size="3.2">-3</tspan></text>
<line x1="285.80" y1="462.60" x2="285.80" y2="464.40" stroke="#111" stroke-width="0.9" />
<text x="286.80" y="469.60" font-size="4.6" text-anchor="middle" fill="#111">10<tspan dy="-1.8" font-size="3.2">-2</tspan></text>
<line x1="303.30" y1="462.60" x2="303.30" y2="464.40" stroke="#111" stroke-width="0.9" />
<text x="304.30" y="469.60" font-size="4.6" text-anchor="middle" fill="#111">10<tspan dy="-1.8" font-size="3.2">-1</tspan></text>
<line x1="320.80" y1="462.60" x2="320.80" y2="464.40" stroke="#111" stroke-width="0.9" />
<text x="321.80" y="469.60" font-size="4.6" text-anchor="middle" fill="#111">10<tspan dy="-1.8" font-size="3.2">0</tspan></text>
<line x1="338.30" y1="462.60" x2="338.30" y2="464.40" stroke="#111" stroke-width="0.9" />
<text x="339.30" y="469.60" font-size="4.6" text-anchor="middle" fill="#111">10<tspan dy="-1.8" font-size="3.2">1</tspan></text>
<line x1="355.80" y1="462.60" x2="355.80" y2="464.40" stroke="#111" stroke-width="0.9" />
<text x="356.80" y="469.60" font-size="4.6" text-anchor="middle" fill="#111">10<tspan dy="-1.8" font-size="3.2">2</tspan></text>
<text x="261.00" y="404.80" font-size="5.6" fill="#111" stroke="#111" stroke-width="0.15" textLength="21.30" lengthAdjust="spacingAndGlyphs" >R2=0.66</text>
<text transform="translate(236.40,427.20) rotate(-90)" x="0" y="0" font-size="5.2" fill="#000" stroke="#000" stroke-width="0.15" text-anchor="middle" textLength="15.40" lengthAdjust="spacingAndGlyphs">d14-A</text>
<text x="297.50" y="478.80" font-size="5.2" fill="#111" stroke="#111" stroke-width="0.15" textLength="12.60" lengthAdjust="spacingAndGlyphs" >d14-B</text>
<path d="M326.5,417.6h1.3v1.3h-1.3zM334.5,405.9h1.3v1.3h-1.3zM320.4,415.1h1.3v1.3h-1.3zM329.1,410.9h1.3v1.3h-1.3zM328.0,405.7h1.3v1.3h-1.3zM338.2,404.7h1.3v1.3h-1.3zM330.0,410.0h1.3v1.3h-1.3zM321.3,418.0h1.3v1.3h-1.3zM331.2,409.0h1.3v1.3h-1.3zM323.7,417.1h1.3v1.3h-1.3zM313.7,416.3h1.3v1.3h-1.3zM326.5,410.5h1.3v1.3h-1.3zM305.5,424.8h1.3v1.3h-1.3zM317.8,414.5h1.3v1.3h-1.3zM310.4,423.8h1.3v1.3h-1.3zM331.8,408.5h1.3v1.3h-1.3zM317.8,420.0h1.3v1.3h-1.3zM330.1,409.4h1.3v1.3h-1.3zM330.6,413.6h1.3v1.3h-1.3zM320.8,413.8h1.3v1.3h-1.3zM327.6,413.0h1.3v1.3h-1.3zM332.2,405.0h1.3v1.3h-1.3zM316.6,416.6h1.3v1.3h-1.3zM308.4,425.4h1.3v1.3h-1.3zM327.7,409.6h1.3v1.3h-1.3zM337.7,407.6h1.3v1.3h-1.3zM330.4,411.6h1.3v1.3h-1.3zM330.7,405.7h1.3v1.3h-1.3zM330.6,412.2h1.3v1.3h-1.3zM308.3,426.1h1.3v1.3h-1.3zM323.0,418.0h1.3v1.3h-1.3zM320.0,417.2h1.3v1.3h-1.3zM325.7,410.3h1.3v1.3h-1.3zM329.3,410.6h1.3v1.3h-1.3zM327.7,410.3h1.3v1.3h-1.3zM334.8,409.2h1.3v1.3h-1.3zM323.4,417.2h1.3v1.3h-1.3zM338.0,410.5h1.3v1.3h-1.3zM310.9,426.1h1.3v1.3h-1.3zM328.1,411.4h1.3v1.3h-1.3zM316.8,423.6h1.3v1.3h-1.3zM313.4,423.6h1.3v1.3h-1.3zM333.7,403.3h1.3v1.3h-1.3zM319.1,413.2h1.3v1.3h-1.3zM328.7,416.7h1.3v1.3h-1.3zM340.8,399.6h1.3v1.3h-1.3zM319.9,419.8h1.3v1.3h-1.3zM338.9,405.6h1.3v1.3h-1.3zM317.7,419.8h1.3v1.3h-1.3zM323.5,414.1h1.3v1.3h-1.3zM317.9,420.0h1.3v1.3h-1.3zM326.7,412.4h1.3v1.3h-1.3zM319.9,412.8h1.3v1.3h-1.3zM321.5,420.4h1.3v1.3h-1.3zM319.9,412.2h1.3v1.3h-1.3zM336.9,407.4h1.3v1.3h-1.3zM343.3,401.6h1.3v1.3h-1.3zM317.4,413.9h1.3v1.3h-1.3zM339.6,411.6h1.3v1.3h-1.3zM315.5,418.1h1.3v1.3h-1.3zM328.1,408.9h1.3v1.3h-1.3zM321.0,415.3h1.3v1.3h-1.3zM327.5,416.0h1.3v1.3h-1.3zM325.7,416.6h1.3v1.3h-1.3zM320.7,417.9h1.3v1.3h-1.3zM302.9,425.2h1.3v1.3h-1.3zM330.4,408.3h1.3v1.3h-1.3zM330.1,412.2h1.3v1.3h-1.3zM337.2,408.0h1.3v1.3h-1.3zM333.1,408.0h1.3v1.3h-1.3zM316.5,417.1h1.3v1.3h-1.3zM317.7,414.8h1.3v1.3h-1.3zM318.9,417.7h1.3v1.3h-1.3zM325.8,412.2h1.3v1.3h-1.3zM306.4,426.2h1.3v1.3h-1.3zM327.8,415.7h1.3v1.3h-1.3zM328.3,409.5h1.3v1.3h-1.3zM320.6,423.8h1.3v1.3h-1.3zM333.7,414.1h1.3v1.3h-1.3zM342.7,400.4h1.3v1.3h-1.3zM328.3,413.2h1.3v1.3h-1.3zM330.0,412.4h1.3v1.3h-1.3zM326.1,413.7h1.3v1.3h-1.3zM310.1,423.4h1.3v1.3h-1.3zM317.4,419.4h1.3v1.3h-1.3zM320.8,418.9h1.3v1.3h-1.3zM331.9,410.2h1.3v1.3h-1.3zM327.0,412.8h1.3v1.3h-1.3zM319.7,416.9h1.3v1.3h-1.3zM320.1,418.5h1.3v1.3h-1.3zM325.1,415.9h1.3v1.3h-1.3zM313.2,424.7h1.3v1.3h-1.3zM315.9,417.5h1.3v1.3h-1.3zM321.3,414.4h1.3v1.3h-1.3zM325.7,411.4h1.3v1.3h-1.3zM312.9,419.2h1.3v1.3h-1.3zM336.0,406.6h1.3v1.3h-1.3zM313.4,421.7h1.3v1.3h-1.3zM312.4,427.9h1.3v1.3h-1.3zM310.8,424.9h1.3v1.3h-1.3zM326.7,407.8h1.3v1.3h-1.3zM328.4,415.1h1.3v1.3h-1.3zM328.7,412.3h1.3v1.3h-1.3zM332.9,409.1h1.3v1.3h-1.3zM326.9,412.2h1.3v1.3h-1.3zM328.3,408.5h1.3v1.3h-1.3zM330.5,408.5h1.3v1.3h-1.3zM314.6,422.1h1.3v1.3h-1.3zM340.6,405.8h1.3v1.3h-1.3zM320.4,419.4h1.3v1.3h-1.3zM319.7,417.0h1.3v1.3h-1.3zM321.1,408.4h1.3v1.3h-1.3zM324.1,410.9h1.3v1.3h-1.3zM315.3,415.3h1.3v1.3h-1.3zM308.8,421.9h1.3v1.3h-1.3zM334.1,413.2h1.3v1.3h-1.3zM325.6,417.3h1.3v1.3h-1.3zM318.5,411.5h1.3v1.3h-1.3zM326.1,414.7h1.3v1.3h-1.3zM320.6,417.9h1.3v1.3h-1.3zM327.9,409.0h1.3v1.3h-1.3zM310.2,423.1h1.3v1.3h-1.3zM321.5,415.0h1.3v1.3h-1.3zM335.6,412.2h1.3v1.3h-1.3zM321.3,418.8h1.3v1.3h-1.3zM333.7,410.3h1.3v1.3h-1.3zM333.0,407.2h1.3v1.3h-1.3zM333.9,414.6h1.3v1.3h-1.3zM330.4,408.2h1.3v1.3h-1.3zM331.5,413.7h1.3v1.3h-1.3zM326.5,410.9h1.3v1.3h-1.3zM336.5,402.7h1.3v1.3h-1.3zM328.6,411.4h1.3v1.3h-1.3zM315.0,424.6h1.3v1.3h-1.3zM325.3,409.6h1.3v1.3h-1.3zM328.8,409.8h1.3v1.3h-1.3zM305.8,424.9h1.3v1.3h-1.3zM327.4,414.4h1.3v1.3h-1.3zM325.6,413.6h1.3v1.3h-1.3zM328.0,411.1h1.3v1.3h-1.3zM335.0,407.6h1.3v1.3h-1.3zM327.6,414.0h1.3v1.3h-1.3zM313.3,419.4h1.3v1.3h-1.3zM338.4,405.8h1.3v1.3h-1.3zM322.0,417.1h1.3v1.3h-1.3zM320.1,418.2h1.3v1.3h-1.3zM318.4,419.3h1.3v1.3h-1.3zM311.5,427.0h1.3v1.3h-1.3zM316.8,413.9h1.3v1.3h-1.3zM321.4,415.0h1.3v1.3h-1.3zM323.5,410.8h1.3v1.3h-1.3zM333.4,420.7h1.3v1.3h-1.3zM312.9,423.1h1.3v1.3h-1.3zM321.5,416.9h1.3v1.3h-1.3zM306.0,423.4h1.3v1.3h-1.3zM328.1,411.6h1.3v1.3h-1.3zM338.1,403.2h1.3v1.3h-1.3zM330.3,420.5h1.3v1.3h-1.3zM315.6,417.1h1.3v1.3h-1.3zM323.6,414.6h1.3v1.3h-1.3zM331.9,409.6h1.3v1.3h-1.3zM317.4,419.7h1.3v1.3h-1.3zM331.7,401.0h1.3v1.3h-1.3zM321.3,413.3h1.3v1.3h-1.3zM329.4,410.3h1.3v1.3h-1.3zM342.6,404.1h1.3v1.3h-1.3zM332.4,409.5h1.3v1.3h-1.3zM324.2,415.6h1.3v1.3h-1.3zM336.6,407.7h1.3v1.3h-1.3zM322.9,419.8h1.3v1.3h-1.3zM325.6,413.2h1.3v1.3h-1.3zM315.9,418.1h1.3v1.3h-1.3zM313.7,411.8h1.3v1.3h-1.3zM334.1,409.5h1.3v1.3h-1.3zM323.8,418.4h1.3v1.3h-1.3zM328.6,412.7h1.3v1.3h-1.3zM301.2,429.5h1.3v1.3h-1.3zM331.4,415.0h1.3v1.3h-1.3zM342.3,405.5h1.3v1.3h-1.3zM310.1,416.7h1.3v1.3h-1.3zM329.3,411.1h1.3v1.3h-1.3zM332.6,408.3h1.3v1.3h-1.3zM323.6,409.6h1.3v1.3h-1.3zM327.4,410.7h1.3v1.3h-1.3zM327.9,413.5h1.3v1.3h-1.3zM323.5,416.0h1.3v1.3h-1.3zM325.1,416.5h1.3v1.3h-1.3zM327.7,410.2h1.3v1.3h-1.3zM321.5,422.3h1.3v1.3h-1.3zM324.7,417.6h1.3v1.3h-1.3zM326.7,410.8h1.3v1.3h-1.3zM317.4,419.4h1.3v1.3h-1.3zM327.3,414.4h1.3v1.3h-1.3zM311.6,421.0h1.3v1.3h-1.3zM325.8,419.0h1.3v1.3h-1.3zM302.9,429.7h1.3v1.3h-1.3zM319.8,418.9h1.3v1.3h-1.3zM320.1,418.4h1.3v1.3h-1.3zM338.7,405.6h1.3v1.3h-1.3zM328.6,412.7h1.3v1.3h-1.3zM318.0,420.4h1.3v1.3h-1.3zM320.8,413.8h1.3v1.3h-1.3zM323.3,414.2h1.3v1.3h-1.3zM330.8,409.8h1.3v1.3h-1.3zM321.5,421.3h1.3v1.3h-1.3zM334.9,411.2h1.3v1.3h-1.3zM329.4,410.5h1.3v1.3h-1.3zM319.7,416.4h1.3v1.3h-1.3zM332.8,409.0h1.3v1.3h-1.3zM310.4,423.6h1.3v1.3h-1.3zM311.3,423.6h1.3v1.3h-1.3zM311.1,419.1h1.3v1.3h-1.3zM325.0,413.6h1.3v1.3h-1.3zM309.9,426.3h1.3v1.3h-1.3zM342.6,399.5h1.3v1.3h-1.3zM339.8,402.2h1.3v1.3h-1.3zM319.2,417.1h1.3v1.3h-1.3zM312.7,426.2h1.3v1.3h-1.3zM327.3,409.7h1.3v1.3h-1.3zM319.0,412.6h1.3v1.3h-1.3zM322.4,418.9h1.3v1.3h-1.3zM307.8,424.2h1.3v1.3h-1.3zM327.0,416.2h1.3v1.3h-1.3zM335.7,405.3h1.3v1.3h-1.3zM318.0,420.2h1.3v1.3h-1.3zM320.2,416.0h1.3v1.3h-1.3zM336.3,411.5h1.3v1.3h-1.3zM326.1,412.4h1.3v1.3h-1.3zM326.2,406.6h1.3v1.3h-1.3zM322.1,412.1h1.3v1.3h-1.3zM330.8,410.4h1.3v1.3h-1.3zM318.1,409.6h1.3v1.3h-1.3zM333.0,413.9h1.3v1.3h-1.3zM318.5,420.6h1.3v1.3h-1.3zM328.2,406.5h1.3v1.3h-1.3zM334.6,411.8h1.3v1.3h-1.3zM326.0,413.0h1.3v1.3h-1.3zM328.8,406.2h1.3v1.3h-1.3zM326.6,416.5h1.3v1.3h-1.3zM314.2,424.4h1.3v1.3h-1.3zM316.8,412.1h1.3v1.3h-1.3zM321.5,412.8h1.3v1.3h-1.3zM325.0,409.8h1.3v1.3h-1.3zM332.5,406.5h1.3v1.3h-1.3zM326.3,410.9h1.3v1.3h-1.3zM323.0,419.4h1.3v1.3h-1.3zM325.3,412.3h1.3v1.3h-1.3zM314.3,424.8h1.3v1.3h-1.3zM330.2,409.3h1.3v1.3h-1.3zM324.6,410.6h1.3v1.3h-1.3zM313.5,418.9h1.3v1.3h-1.3zM327.7,413.1h1.3v1.3h-1.3zM318.4,420.9h1.3v1.3h-1.3zM331.4,410.1h1.3v1.3h-1.3zM333.1,407.5h1.3v1.3h-1.3zM323.8,416.4h1.3v1.3h-1.3zM325.0,416.7h1.3v1.3h-1.3zM314.7,425.4h1.3v1.3h-1.3zM316.6,418.9h1.3v1.3h-1.3zM312.3,424.3h1.3v1.3h-1.3zM337.1,408.9h1.3v1.3h-1.3zM329.2,405.9h1.3v1.3h-1.3zM316.1,418.2h1.3v1.3h-1.3zM317.3,422.9h1.3v1.3h-1.3zM325.7,413.3h1.3v1.3h-1.3zM326.9,409.3h1.3v1.3h-1.3zM314.3,418.1h1.3v1.3h-1.3zM329.1,412.3h1.3v1.3h-1.3zM331.0,413.5h1.3v1.3h-1.3zM310.8,421.7h1.3v1.3h-1.3zM323.2,410.4h1.3v1.3h-1.3zM320.8,420.2h1.3v1.3h-1.3zM335.6,410.1h1.3v1.3h-1.3zM324.1,413.8h1.3v1.3h-1.3zM333.3,407.1h1.3v1.3h-1.3zM329.2,415.6h1.3v1.3h-1.3zM319.7,415.3h1.3v1.3h-1.3zM324.9,416.0h1.3v1.3h-1.3zM328.7,411.9h1.3v1.3h-1.3zM326.6,407.4h1.3v1.3h-1.3zM316.4,420.2h1.3v1.3h-1.3zM313.4,417.1h1.3v1.3h-1.3zM311.6,419.9h1.3v1.3h-1.3zM320.7,413.1h1.3v1.3h-1.3zM328.9,417.2h1.3v1.3h-1.3zM324.7,418.5h1.3v1.3h-1.3zM324.8,410.1h1.3v1.3h-1.3zM320.1,413.7h1.3v1.3h-1.3zM329.2,407.2h1.3v1.3h-1.3zM336.9,407.6h1.3v1.3h-1.3zM306.5,428.4h1.3v1.3h-1.3zM337.2,403.5h1.3v1.3h-1.3zM330.3,404.5h1.3v1.3h-1.3zM323.6,409.0h1.3v1.3h-1.3zM325.6,407.4h1.3v1.3h-1.3zM300.2,431.1h1.3v1.3h-1.3zM319.9,420.2h1.3v1.3h-1.3zM324.5,413.1h1.3v1.3h-1.3zM332.2,414.6h1.3v1.3h-1.3zM313.6,423.4h1.3v1.3h-1.3zM324.9,409.0h1.3v1.3h-1.3zM341.1,408.2h1.3v1.3h-1.3zM318.0,424.4h1.3v1.3h-1.3zM324.3,413.8h1.3v1.3h-1.3zM338.0,405.7h1.3v1.3h-1.3zM329.4,416.2h1.3v1.3h-1.3zM337.0,408.4h1.3v1.3h-1.3zM308.9,419.7h1.3v1.3h-1.3zM332.9,405.6h1.3v1.3h-1.3zM323.6,411.0h1.3v1.3h-1.3zM320.2,412.6h1.3v1.3h-1.3zM337.6,402.7h1.3v1.3h-1.3zM322.6,414.8h1.3v1.3h-1.3zM333.0,404.1h1.3v1.3h-1.3zM323.4,414.2h1.3v1.3h-1.3zM329.6,412.4h1.3v1.3h-1.3zM320.2,418.0h1.3v1.3h-1.3zM321.4,418.0h1.3v1.3h-1.3zM322.0,413.6h1.3v1.3h-1.3zM324.4,415.6h1.3v1.3h-1.3zM320.0,418.3h1.3v1.3h-1.3zM334.6,401.5h1.3v1.3h-1.3zM306.5,422.9h1.3v1.3h-1.3zM327.0,421.1h1.3v1.3h-1.3zM329.5,415.0h1.3v1.3h-1.3zM318.0,409.9h1.3v1.3h-1.3zM303.9,430.3h1.3v1.3h-1.3zM323.6,410.3h1.3v1.3h-1.3zM332.0,404.4h1.3v1.3h-1.3zM336.4,410.6h1.3v1.3h-1.3zM315.3,416.6h1.3v1.3h-1.3zM330.0,406.9h1.3v1.3h-1.3zM330.1,406.5h1.3v1.3h-1.3zM331.5,409.8h1.3v1.3h-1.3zM318.6,415.0h1.3v1.3h-1.3zM323.1,408.5h1.3v1.3h-1.3zM320.8,415.3h1.3v1.3h-1.3zM328.2,407.5h1.3v1.3h-1.3zM339.3,403.5h1.3v1.3h-1.3zM315.8,424.7h1.3v1.3h-1.3zM338.9,404.0h1.3v1.3h-1.3zM315.9,420.0h1.3v1.3h-1.3zM317.2,418.0h1.3v1.3h-1.3zM338.7,405.7h1.3v1.3h-1.3zM325.9,414.5h1.3v1.3h-1.3zM324.9,416.9h1.3v1.3h-1.3zM331.5,408.3h1.3v1.3h-1.3zM328.9,419.7h1.3v1.3h-1.3zM327.6,411.5h1.3v1.3h-1.3zM342.7,401.9h1.3v1.3h-1.3zM315.0,422.8h1.3v1.3h-1.3zM315.0,418.9h1.3v1.3h-1.3zM326.8,412.2h1.3v1.3h-1.3zM316.2,417.9h1.3v1.3h-1.3zM320.5,421.0h1.3v1.3h-1.3zM316.5,417.6h1.3v1.3h-1.3zM342.1,401.2h1.3v1.3h-1.3zM339.3,407.9h1.3v1.3h-1.3zM320.3,412.0h1.3v1.3h-1.3zM329.2,413.3h1.3v1.3h-1.3zM332.9,408.7h1.3v1.3h-1.3zM337.0,410.0h1.3v1.3h-1.3zM316.6,424.3h1.3v1.3h-1.3zM324.7,412.1h1.3v1.3h-1.3zM324.2,421.0h1.3v1.3h-1.3zM330.3,404.5h1.3v1.3h-1.3zM324.5,413.7h1.3v1.3h-1.3zM321.6,414.4h1.3v1.3h-1.3zM312.0,425.3h1.3v1.3h-1.3zM314.9,419.4h1.3v1.3h-1.3zM317.3,416.5h1.3v1.3h-1.3zM331.4,410.8h1.3v1.3h-1.3zM316.3,416.4h1.3v1.3h-1.3zM321.3,419.8h1.3v1.3h-1.3zM325.5,414.3h1.3v1.3h-1.3zM320.6,415.9h1.3v1.3h-1.3zM323.0,408.8h1.3v1.3h-1.3zM337.7,403.2h1.3v1.3h-1.3zM321.0,421.2h1.3v1.3h-1.3zM326.1,413.3h1.3v1.3h-1.3zM316.2,414.4h1.3v1.3h-1.3zM327.6,416.3h1.3v1.3h-1.3zM318.0,423.3h1.3v1.3h-1.3zM312.6,419.8h1.3v1.3h-1.3zM328.6,411.4h1.3v1.3h-1.3zM329.2,408.6h1.3v1.3h-1.3zM311.7,416.6h1.3v1.3h-1.3zM311.4,419.5h1.3v1.3h-1.3zM311.4,424.0h1.3v1.3h-1.3zM314.8,413.9h1.3v1.3h-1.3zM314.4,416.7h1.3v1.3h-1.3zM336.9,409.3h1.3v1.3h-1.3zM311.3,418.3h1.3v1.3h-1.3zM316.7,423.3h1.3v1.3h-1.3zM319.8,414.5h1.3v1.3h-1.3zM325.7,417.6h1.3v1.3h-1.3zM310.8,422.2h1.3v1.3h-1.3zM314.6,427.8h1.3v1.3h-1.3zM341.6,404.9h1.3v1.3h-1.3zM323.9,417.0h1.3v1.3h-1.3zM305.2,427.9h1.3v1.3h-1.3zM309.9,419.8h1.3v1.3h-1.3zM317.0,418.0h1.3v1.3h-1.3zM330.3,412.6h1.3v1.3h-1.3zM324.9,410.7h1.3v1.3h-1.3zM330.0,410.1h1.3v1.3h-1.3zM333.5,405.3h1.3v1.3h-1.3zM323.2,422.7h1.3v1.3h-1.3zM328.0,411.2h1.3v1.3h-1.3zM332.8,410.2h1.3v1.3h-1.3zM327.4,410.5h1.3v1.3h-1.3zM325.0,414.5h1.3v1.3h-1.3zM316.3,415.8h1.3v1.3h-1.3zM326.8,416.0h1.3v1.3h-1.3zM330.7,411.7h1.3v1.3h-1.3zM332.7,417.5h1.3v1.3h-1.3zM328.1,415.4h1.3v1.3h-1.3zM341.9,402.6h1.3v1.3h-1.3zM328.1,415.4h1.3v1.3h-1.3zM339.8,404.7h1.3v1.3h-1.3zM327.5,412.5h1.3v1.3h-1.3zM314.7,424.5h1.3v1.3h-1.3zM318.9,411.9h1.3v1.3h-1.3zM319.9,411.2h1.3v1.3h-1.3zM314.9,420.8h1.3v1.3h-1.3zM317.3,422.7h1.3v1.3h-1.3zM311.0,424.1h1.3v1.3h-1.3zM331.5,414.5h1.3v1.3h-1.3zM332.9,409.3h1.3v1.3h-1.3zM324.7,413.9h1.3v1.3h-1.3zM333.5,406.1h1.3v1.3h-1.3zM328.7,411.1h1.3v1.3h-1.3zM325.9,412.4h1.3v1.3h-1.3zM343.0,400.6h1.3v1.3h-1.3zM326.9,413.6h1.3v1.3h-1.3zM330.4,411.8h1.3v1.3h-1.3zM329.6,414.2h1.3v1.3h-1.3zM310.4,423.8h1.3v1.3h-1.3zM313.2,422.6h1.3v1.3h-1.3zM311.9,419.6h1.3v1.3h-1.3zM325.9,418.2h1.3v1.3h-1.3zM329.9,411.6h1.3v1.3h-1.3zM335.7,404.0h1.3v1.3h-1.3zM304.6,426.6h1.3v1.3h-1.3zM323.6,419.2h1.3v1.3h-1.3zM342.6,399.7h1.3v1.3h-1.3zM339.5,406.4h1.3v1.3h-1.3zM331.4,418.0h1.3v1.3h-1.3zM324.1,412.8h1.3v1.3h-1.3zM323.2,410.3h1.3v1.3h-1.3zM328.3,411.3h1.3v1.3h-1.3zM327.8,413.3h1.3v1.3h-1.3zM316.5,424.0h1.3v1.3h-1.3zM316.3,422.8h1.3v1.3h-1.3zM310.2,425.0h1.3v1.3h-1.3zM316.8,419.6h1.3v1.3h-1.3zM314.7,413.3h1.3v1.3h-1.3zM314.1,421.5h1.3v1.3h-1.3zM327.6,407.2h1.3v1.3h-1.3zM303.8,426.0h1.3v1.3h-1.3zM321.2,414.2h1.3v1.3h-1.3zM318.1,421.5h1.3v1.3h-1.3zM334.1,410.2h1.3v1.3h-1.3zM315.7,420.4h1.3v1.3h-1.3zM320.1,412.2h1.3v1.3h-1.3zM332.4,409.2h1.3v1.3h-1.3zM322.1,420.9h1.3v1.3h-1.3zM332.5,411.7h1.3v1.3h-1.3zM336.1,408.6h1.3v1.3h-1.3zM312.0,421.4h1.3v1.3h-1.3zM332.2,406.6h1.3v1.3h-1.3zM325.2,415.2h1.3v1.3h-1.3zM339.0,408.1h1.3v1.3h-1.3zM332.1,408.5h1.3v1.3h-1.3zM333.3,410.0h1.3v1.3h-1.3zM324.9,418.8h1.3v1.3h-1.3zM327.5,409.7h1.3v1.3h-1.3zM335.3,406.2h1.3v1.3h-1.3zM327.2,407.3h1.3v1.3h-1.3zM322.4,412.3h1.3v1.3h-1.3zM312.3,416.0h1.3v1.3h-1.3zM343.5,401.1h1.3v1.3h-1.3zM328.1,415.7h1.3v1.3h-1.3zM323.8,416.5h1.3v1.3h-1.3zM312.0,423.3h1.3v1.3h-1.3zM321.2,418.3h1.3v1.3h-1.3zM323.5,410.1h1.3v1.3h-1.3zM305.9,423.9h1.3v1.3h-1.3zM331.5,410.9h1.3v1.3h-1.3zM324.5,407.2h1.3v1.3h-1.3zM317.9,417.5h1.3v1.3h-1.3zM319.2,419.1h1.3v1.3h-1.3zM320.6,412.7h1.3v1.3h-1.3zM316.3,420.3h1.3v1.3h-1.3zM324.6,413.9h1.3v1.3h-1.3zM321.9,416.4h1.3v1.3h-1.3zM314.4,419.8h1.3v1.3h-1.3zM329.7,412.6h1.3v1.3h-1.3zM323.2,416.4h1.3v1.3h-1.3zM321.5,409.6h1.3v1.3h-1.3zM331.5,409.3h1.3v1.3h-1.3zM306.4,422.7h1.3v1.3h-1.3zM332.6,400.6h1.3v1.3h-1.3zM322.5,418.6h1.3v1.3h-1.3zM326.5,415.5h1.3v1.3h-1.3zM326.7,421.1h1.3v1.3h-1.3zM312.5,417.7h1.3v1.3h-1.3zM328.8,416.3h1.3v1.3h-1.3zM325.2,417.4h1.3v1.3h-1.3zM317.2,414.9h1.3v1.3h-1.3zM338.9,409.0h1.3v1.3h-1.3zM337.4,404.3h1.3v1.3h-1.3zM311.7,419.0h1.3v1.3h-1.3zM322.9,417.3h1.3v1.3h-1.3zM326.4,408.0h1.3v1.3h-1.3zM325.8,413.4h1.3v1.3h-1.3zM324.8,413.9h1.3v1.3h-1.3zM323.1,417.2h1.3v1.3h-1.3zM325.5,414.3h1.3v1.3h-1.3zM318.3,419.7h1.3v1.3h-1.3zM319.4,410.1h1.3v1.3h-1.3zM328.0,410.9h1.3v1.3h-1.3zM332.2,408.5h1.3v1.3h-1.3zM323.5,415.6h1.3v1.3h-1.3zM323.2,413.5h1.3v1.3h-1.3zM310.1,429.2h1.3v1.3h-1.3zM309.1,423.5h1.3v1.3h-1.3zM330.6,411.4h1.3v1.3h-1.3zM330.4,412.8h1.3v1.3h-1.3zM335.9,407.4h1.3v1.3h-1.3zM315.1,421.3h1.3v1.3h-1.3zM319.8,415.4h1.3v1.3h-1.3zM329.0,416.2h1.3v1.3h-1.3zM316.4,417.2h1.3v1.3h-1.3zM331.5,411.3h1.3v1.3h-1.3zM342.9,404.0h1.3v1.3h-1.3zM325.6,412.3h1.3v1.3h-1.3zM325.7,412.8h1.3v1.3h-1.3zM311.6,422.9h1.3v1.3h-1.3zM322.0,415.0h1.3v1.3h-1.3zM322.8,421.3h1.3v1.3h-1.3zM331.8,412.4h1.3v1.3h-1.3zM316.8,415.8h1.3v1.3h-1.3zM321.8,416.9h1.3v1.3h-1.3zM320.6,416.2h1.3v1.3h-1.3zM333.2,409.3h1.3v1.3h-1.3zM314.4,419.6h1.3v1.3h-1.3zM318.3,419.0h1.3v1.3h-1.3zM313.1,421.3h1.3v1.3h-1.3zM330.4,410.3h1.3v1.3h-1.3zM314.7,418.7h1.3v1.3h-1.3zM325.9,414.9h1.3v1.3h-1.3zM331.4,409.1h1.3v1.3h-1.3zM314.1,425.8h1.3v1.3h-1.3zM327.4,413.7h1.3v1.3h-1.3zM325.1,410.2h1.3v1.3h-1.3zM321.5,417.1h1.3v1.3h-1.3zM333.5,408.3h1.3v1.3h-1.3zM322.4,416.9h1.3v1.3h-1.3zM336.8,408.0h1.3v1.3h-1.3zM338.8,408.4h1.3v1.3h-1.3zM330.5,405.7h1.3v1.3h-1.3zM332.6,410.7h1.3v1.3h-1.3zM320.2,419.2h1.3v1.3h-1.3zM327.1,410.9h1.3v1.3h-1.3zM322.5,414.7h1.3v1.3h-1.3zM325.4,412.1h1.3v1.3h-1.3zM326.0,406.7h1.3v1.3h-1.3zM318.7,412.2h1.3v1.3h-1.3zM320.4,418.7h1.3v1.3h-1.3zM324.0,414.1h1.3v1.3h-1.3zM327.2,417.9h1.3v1.3h-1.3zM315.3,423.4h1.3v1.3h-1.3zM309.5,422.8h1.3v1.3h-1.3zM324.1,411.5h1.3v1.3h-1.3zM327.1,415.0h1.3v1.3h-1.3zM313.0,421.7h1.3v1.3h-1.3zM317.4,412.2h1.3v1.3h-1.3zM321.0,413.7h1.3v1.3h-1.3zM335.0,404.5h1.3v1.3h-1.3zM338.9,403.1h1.3v1.3h-1.3zM342.2,403.4h1.3v1.3h-1.3zM329.4,413.6h1.3v1.3h-1.3zM334.3,412.1h1.3v1.3h-1.3zM339.4,403.3h1.3v1.3h-1.3zM308.6,416.2h1.3v1.3h-1.3zM321.7,418.8h1.3v1.3h-1.3zM327.6,412.5h1.3v1.3h-1.3zM319.8,415.1h1.3v1.3h-1.3zM322.1,417.2h1.3v1.3h-1.3zM308.9,426.8h1.3v1.3h-1.3zM310.5,423.2h1.3v1.3h-1.3zM317.6,417.6h1.3v1.3h-1.3zM312.7,418.3h1.3v1.3h-1.3zM320.1,413.3h1.3v1.3h-1.3zM319.1,415.5h1.3v1.3h-1.3zM317.2,415.4h1.3v1.3h-1.3zM301.3,429.3h1.3v1.3h-1.3zM324.3,409.1h1.3v1.3h-1.3zM322.0,411.6h1.3v1.3h-1.3zM324.2,415.6h1.3v1.3h-1.3zM329.0,412.6h1.3v1.3h-1.3zM318.9,421.0h1.3v1.3h-1.3zM320.4,418.2h1.3v1.3h-1.3zM329.9,409.5h1.3v1.3h-1.3zM313.1,423.8h1.3v1.3h-1.3zM312.4,419.4h1.3v1.3h-1.3zM315.2,423.3h1.3v1.3h-1.3zM318.7,410.1h1.3v1.3h-1.3zM333.8,414.8h1.3v1.3h-1.3zM339.7,402.6h1.3v1.3h-1.3zM325.4,415.3h1.3v1.3h-1.3zM332.1,409.2h1.3v1.3h-1.3zM315.1,423.0h1.3v1.3h-1.3zM327.4,407.7h1.3v1.3h-1.3zM321.0,417.5h1.3v1.3h-1.3zM324.7,415.9h1.3v1.3h-1.3zM332.0,410.9h1.3v1.3h-1.3zM320.6,412.0h1.3v1.3h-1.3zM331.7,414.0h1.3v1.3h-1.3zM341.9,402.4h1.3v1.3h-1.3zM325.9,418.3h1.3v1.3h-1.3zM337.5,406.4h1.3v1.3h-1.3zM329.2,408.4h1.3v1.3h-1.3zM327.9,409.1h1.3v1.3h-1.3zM322.3,415.2h1.3v1.3h-1.3zM316.2,412.4h1.3v1.3h-1.3zM316.9,420.5h1.3v1.3h-1.3zM322.7,414.0h1.3v1.3h-1.3zM328.9,413.6h1.3v1.3h-1.3zM330.4,407.6h1.3v1.3h-1.3zM323.5,413.6h1.3v1.3h-1.3zM313.5,416.5h1.3v1.3h-1.3zM321.5,413.1h1.3v1.3h-1.3zM343.4,401.2h1.3v1.3h-1.3zM321.1,415.0h1.3v1.3h-1.3zM339.9,401.6h1.3v1.3h-1.3zM321.1,413.7h1.3v1.3h-1.3zM322.6,415.3h1.3v1.3h-1.3zM331.8,404.8h1.3v1.3h-1.3zM326.3,418.6h1.3v1.3h-1.3zM318.9,417.3h1.3v1.3h-1.3zM311.6,413.9h1.3v1.3h-1.3zM324.8,418.1h1.3v1.3h-1.3zM316.6,413.0h1.3v1.3h-1.3zM326.4,413.1h1.3v1.3h-1.3zM334.3,410.4h1.3v1.3h-1.3zM322.0,417.2h1.3v1.3h-1.3zM308.9,427.8h1.3v1.3h-1.3zM327.3,416.1h1.3v1.3h-1.3zM333.1,407.4h1.3v1.3h-1.3zM321.0,413.4h1.3v1.3h-1.3zM304.8,427.1h1.3v1.3h-1.3zM323.5,411.0h1.3v1.3h-1.3zM330.5,410.4h1.3v1.3h-1.3zM326.7,410.0h1.3v1.3h-1.3zM308.8,427.0h1.3v1.3h-1.3zM329.2,410.6h1.3v1.3h-1.3zM319.5,416.5h1.3v1.3h-1.3zM321.7,414.2h1.3v1.3h-1.3zM306.4,428.4h1.3v1.3h-1.3zM309.7,423.1h1.3v1.3h-1.3zM321.5,417.1h1.3v1.3h-1.3zM310.8,427.0h1.3v1.3h-1.3zM331.0,412.3h1.3v1.3h-1.3zM334.3,405.1h1.3v1.3h-1.3zM329.0,415.7h1.3v1.3h-1.3zM333.7,406.3h1.3v1.3h-1.3zM323.5,415.8h1.3v1.3h-1.3zM306.6,424.4h1.3v1.3h-1.3zM320.7,422.3h1.3v1.3h-1.3zM320.5,422.3h1.3v1.3h-1.3zM321.3,410.4h1.3v1.3h-1.3zM316.1,422.0h1.3v1.3h-1.3zM338.9,403.1h1.3v1.3h-1.3zM314.4,424.4h1.3v1.3h-1.3zM322.6,411.2h1.3v1.3h-1.3zM313.5,420.3h1.3v1.3h-1.3zM332.4,408.0h1.3v1.3h-1.3zM332.6,414.3h1.3v1.3h-1.3zM337.6,409.7h1.3v1.3h-1.3zM333.0,403.6h1.3v1.3h-1.3zM335.6,407.7h1.3v1.3h-1.3zM321.1,412.7h1.3v1.3h-1.3zM308.0,422.0h1.3v1.3h-1.3zM321.9,411.8h1.3v1.3h-1.3zM315.6,418.1h1.3v1.3h-1.3zM329.6,409.8h1.3v1.3h-1.3zM324.8,418.6h1.3v1.3h-1.3zM322.1,418.0h1.3v1.3h-1.3zM314.9,421.8h1.3v1.3h-1.3zM325.4,414.2h1.3v1.3h-1.3zM318.1,414.9h1.3v1.3h-1.3zM320.5,415.2h1.3v1.3h-1.3zM334.8,410.2h1.3v1.3h-1.3zM314.0,423.3h1.3v1.3h-1.3zM320.4,418.6h1.3v1.3h-1.3zM317.2,413.9h1.3v1.3h-1.3zM333.9,409.3h1.3v1.3h-1.3zM310.0,417.8h1.3v1.3h-1.3zM317.2,415.0h1.3v1.3h-1.3zM321.7,418.3h1.3v1.3h-1.3zM336.9,404.8h1.3v1.3h-1.3zM338.1,408.4h1.3v1.3h-1.3zM317.3,413.2h1.3v1.3h-1.3zM332.7,410.7h1.3v1.3h-1.3zM338.1,407.3h1.3v1.3h-1.3zM338.2,402.3h1.3v1.3h-1.3zM325.4,412.7h1.3v1.3h-1.3zM340.6,404.8h1.3v1.3h-1.3zM335.3,404.3h1.3v1.3h-1.3zM330.4,408.6h1.3v1.3h-1.3zM327.4,414.5h1.3v1.3h-1.3zM324.4,411.0h1.3v1.3h-1.3zM337.4,406.7h1.3v1.3h-1.3zM325.2,416.3h1.3v1.3h-1.3zM322.3,422.3h1.3v1.3h-1.3zM326.8,414.0h1.3v1.3h-1.3zM325.9,410.2h1.3v1.3h-1.3zM313.8,422.2h1.3v1.3h-1.3zM313.2,441.1h1.3v1.3h-1.3zM325.2,408.9h1.3v1.3h-1.3zM269.7,455.0h1.3v1.3h-1.3zM290.6,440.2h1.3v1.3h-1.3zM297.4,446.2h1.3v1.3h-1.3zM318.1,430.4h1.3v1.3h-1.3zM279.5,449.9h1.3v1.3h-1.3zM329.3,431.0h1.3v1.3h-1.3zM306.4,419.0h1.3v1.3h-1.3zM279.2,448.9h1.3v1.3h-1.3zM318.4,425.7h1.3v1.3h-1.3zM292.3,442.1h1.3v1.3h-1.3zM318.2,442.6h1.3v1.3h-1.3zM290.9,438.6h1.3v1.3h-1.3zM321.8,407.8h1.3v1.3h-1.3zM288.6,424.3h1.3v1.3h-1.3zM291.5,447.4h1.3v1.3h-1.3zM317.9,418.8h1.3v1.3h-1.3zM319.9,424.6h1.3v1.3h-1.3zM303.5,435.3h1.3v1.3h-1.3zM312.4,430.3h1.3v1.3h-1.3zM302.9,431.2h1.3v1.3h-1.3zM292.2,455.0h1.3v1.3h-1.3zM307.3,437.6h1.3v1.3h-1.3zM282.7,434.8h1.3v1.3h-1.3zM309.3,418.8h1.3v1.3h-1.3zM290.9,429.5h1.3v1.3h-1.3zM302.5,444.3h1.3v1.3h-1.3zM325.9,432.9h1.3v1.3h-1.3zM284.7,448.4h1.3v1.3h-1.3zM273.1,445.8h1.3v1.3h-1.3zM330.0,427.6h1.3v1.3h-1.3zM303.6,432.9h1.3v1.3h-1.3zM287.8,424.7h1.3v1.3h-1.3zM277.5,446.8h1.3v1.3h-1.3zM326.6,415.5h1.3v1.3h-1.3zM301.8,427.2h1.3v1.3h-1.3zM307.6,415.3h1.3v1.3h-1.3zM295.8,433.0h1.3v1.3h-1.3zM272.9,433.4h1.3v1.3h-1.3zM310.2,415.7h1.3v1.3h-1.3zM284.3,434.0h1.3v1.3h-1.3zM275.2,431.9h1.3v1.3h-1.3zM319.6,428.7h1.3v1.3h-1.3zM325.5,415.2h1.3v1.3h-1.3zM319.5,425.1h1.3v1.3h-1.3zM325.6,424.8h1.3v1.3h-1.3zM292.6,432.5h1.3v1.3h-1.3zM273.5,451.3h1.3v1.3h-1.3zM308.4,428.5h1.3v1.3h-1.3zM266.4,447.0h1.3v1.3h-1.3zM319.8,426.0h1.3v1.3h-1.3zM271.1,444.3h1.3v1.3h-1.3zM271.4,440.6h1.3v1.3h-1.3zM319.5,420.0h1.3v1.3h-1.3zM292.7,440.5h1.3v1.3h-1.3zM292.2,430.5h1.3v1.3h-1.3zM301.1,447.6h1.3v1.3h-1.3zM318.0,428.7h1.3v1.3h-1.3zM289.2,443.1h1.3v1.3h-1.3zM312.2,431.2h1.3v1.3h-1.3zM329.3,439.7h1.3v1.3h-1.3zM288.5,450.0h1.3v1.3h-1.3zM270.8,425.0h1.3v1.3h-1.3zM285.1,454.0h1.3v1.3h-1.3zM278.8,428.0h1.3v1.3h-1.3zM294.5,426.8h1.3v1.3h-1.3zM296.8,434.3h1.3v1.3h-1.3zM325.5,416.2h1.3v1.3h-1.3zM311.1,434.0h1.3v1.3h-1.3zM295.5,430.3h1.3v1.3h-1.3zM272.2,447.0h1.3v1.3h-1.3zM290.2,442.6h1.3v1.3h-1.3zM329.1,429.7h1.3v1.3h-1.3zM292.6,441.6h1.3v1.3h-1.3zM312.4,425.5h1.3v1.3h-1.3zM313.0,403.6h1.3v1.3h-1.3zM325.9,412.6h1.3v1.3h-1.3zM318.3,435.1h1.3v1.3h-1.3zM318.1,431.6h1.3v1.3h-1.3zM302.9,428.8h1.3v1.3h-1.3zM307.5,440.2h1.3v1.3h-1.3zM270.3,440.7h1.3v1.3h-1.3zM319.5,409.2h1.3v1.3h-1.3zM287.1,443.4h1.3v1.3h-1.3zM274.7,441.1h1.3v1.3h-1.3zM283.0,428.3h1.3v1.3h-1.3zM314.6,414.0h1.3v1.3h-1.3zM292.8,418.9h1.3v1.3h-1.3zM275.1,449.1h1.3v1.3h-1.3zM313.2,445.4h1.3v1.3h-1.3zM299.3,417.9h1.3v1.3h-1.3zM302.8,426.1h1.3v1.3h-1.3zM296.0,434.7h1.3v1.3h-1.3zM267.3,447.6h1.3v1.3h-1.3zM319.5,406.1h1.3v1.3h-1.3zM318.6,421.5h1.3v1.3h-1.3zM308.2,422.5h1.3v1.3h-1.3zM313.8,411.1h1.3v1.3h-1.3zM288.7,427.8h1.3v1.3h-1.3zM317.0,407.6h1.3v1.3h-1.3zM272.6,439.6h1.3v1.3h-1.3zM267.4,445.2h1.3v1.3h-1.3zM325.8,413.4h1.3v1.3h-1.3zM315.4,427.9h1.3v1.3h-1.3zM324.0,422.3h1.3v1.3h-1.3zM294.7,445.0h1.3v1.3h-1.3zM303.4,412.0h1.3v1.3h-1.3zM313.2,432.1h1.3v1.3h-1.3zM318.2,437.3h1.3v1.3h-1.3zM323.6,404.0h1.3v1.3h-1.3zM293.8,419.7h1.3v1.3h-1.3zM279.9,454.7h1.3v1.3h-1.3zM319.4,418.9h1.3v1.3h-1.3zM326.0,423.1h1.3v1.3h-1.3zM313.3,448.9h1.3v1.3h-1.3zM299.8,445.6h1.3v1.3h-1.3zM324.8,426.6h1.3v1.3h-1.3zM296.7,424.4h1.3v1.3h-1.3zM295.8,423.3h1.3v1.3h-1.3zM285.2,431.9h1.3v1.3h-1.3zM274.5,441.8h1.3v1.3h-1.3zM325.4,421.3h1.3v1.3h-1.3zM328.2,421.9h1.3v1.3h-1.3zM267.2,436.0h1.3v1.3h-1.3zM300.7,421.3h1.3v1.3h-1.3zM324.1,434.1h1.3v1.3h-1.3zM321.9,424.2h1.3v1.3h-1.3zM313.9,414.5h1.3v1.3h-1.3zM285.6,441.6h1.3v1.3h-1.3zM311.7,438.4h1.3v1.3h-1.3zM326.3,422.3h1.3v1.3h-1.3zM307.2,441.3h1.3v1.3h-1.3zM323.3,422.6h1.3v1.3h-1.3zM331.3,429.8h1.3v1.3h-1.3zM329.7,419.5h1.3v1.3h-1.3zM335.6,422.8h1.3v1.3h-1.3zM324.8,437.1h1.3v1.3h-1.3zM318.5,423.5h1.3v1.3h-1.3zM308.0,436.9h1.3v1.3h-1.3zM336.2,427.1h1.3v1.3h-1.3zM318.7,422.6h1.3v1.3h-1.3zM307.7,437.6h1.3v1.3h-1.3zM318.1,430.5h1.3v1.3h-1.3zM327.2,427.4h1.3v1.3h-1.3zM338.0,419.6h1.3v1.3h-1.3zM300.1,443.5h1.3v1.3h-1.3zM305.5,436.1h1.3v1.3h-1.3zM313.9,427.9h1.3v1.3h-1.3zM333.4,418.1h1.3v1.3h-1.3zM307.1,432.5h1.3v1.3h-1.3zM341.8,411.2h1.3v1.3h-1.3zM312.3,430.1h1.3v1.3h-1.3zM302.4,448.7h1.3v1.3h-1.3zM327.0,426.7h1.3v1.3h-1.3zM335.9,417.9h1.3v1.3h-1.3zM325.0,434.2h1.3v1.3h-1.3zM335.1,420.5h1.3v1.3h-1.3zM333.5,411.6h1.3v1.3h-1.3zM334.3,422.0h1.3v1.3h-1.3zM325.5,422.0h1.3v1.3h-1.3zM317.9,440.0h1.3v1.3h-1.3zM306.8,430.1h1.3v1.3h-1.3zM324.5,422.3h1.3v1.3h-1.3zM317.9,422.3h1.3v1.3h-1.3zM264.7,422.0h1.3v1.3h-1.3zM264.6,427.1h1.3v1.3h-1.3zM264.8,426.5h1.3v1.3h-1.3zM265.1,430.2h1.3v1.3h-1.3zM264.8,434.3h1.3v1.3h-1.3zM265.3,428.6h1.3v1.3h-1.3zM264.8,423.1h1.3v1.3h-1.3zM264.6,423.4h1.3v1.3h-1.3zM264.9,423.2h1.3v1.3h-1.3zM265.1,432.3h1.3v1.3h-1.3zM264.9,445.6h1.3v1.3h-1.3zM348.9,394.9h1.3v1.3h-1.3zM343.0,417.9h1.3v1.3h-1.3zM291.4,454.9h1.3v1.3h-1.3zM304.4,454.9h1.3v1.3h-1.3zM278.4,443.4h1.3v1.3h-1.3zM275.4,448.4h1.3v1.3h-1.3z" fill="#111"/>
<text x="3.80" y="511.40" font-size="11" fill="#000" stroke="#000" stroke-width="0.12" font-weight="bold" textLength="7.80" lengthAdjust="spacingAndGlyphs" >E</text>
<line x1="46.20" y1="519.80" x2="46.20" y2="679.70" stroke="#8c8c8c" stroke-width="1" />
<line x1="43.90" y1="519.80" x2="46.20" y2="519.80" stroke="#8c8c8c" stroke-width="1" />
<text x="37.60" y="523.50" font-size="8.9" fill="#111" stroke="#111" stroke-width="0.12" font-weight="bold" text-anchor="end" >12</text>
<line x1="43.90" y1="532.10" x2="46.20" y2="532.10" stroke="#8c8c8c" stroke-width="1" />
<text x="37.60" y="535.80" font-size="8.9" fill="#111" stroke="#111" stroke-width="0.12" font-weight="bold" text-anchor="end" >10</text>
<line x1="43.90" y1="544.40" x2="46.20" y2="544.40" stroke="#8c8c8c" stroke-width="1" />
<text x="37.60" y="548.10" font-size="8.9" fill="#111" stroke="#111" stroke-width="0.12" font-weight="bold" text-anchor="end" >8</text>
<line x1="43.90" y1="556.70" x2="46.20" y2="556.70" stroke="#8c8c8c" stroke-width="1" />
<text x="37.60" y="560.40" font-size="8.9" fill="#111" stroke="#111" stroke-width="0.12" font-weight="bold" text-anchor="end" >6</text>
<line x1="43.90" y1="569.00" x2="46.20" y2="569.00" stroke="#8c8c8c" stroke-width="1" />
<text x="37.60" y="572.70" font-size="8.9" fill="#111" stroke="#111" stroke-width="0.12" font-weight="bold" text-anchor="end" >4</text>
<line x1="43.90" y1="581.30" x2="46.20" y2="581.30" stroke="#8c8c8c" stroke-width="1" />
<text x="37.60" y="585.00" font-size="8.9" fill="#111" stroke="#111" stroke-width="0.12" font-weight="bold" text-anchor="end" >2</text>
<line x1="43.90" y1="593.60" x2="46.20" y2="593.60" stroke="#8c8c8c" stroke-width="1" />
<text x="37.60" y="597.30" font-size="8.9" fill="#111" stroke="#111" stroke-width="0.12" font-weight="bold" text-anchor="end" >0</text>
<line x1="43.90" y1="605.90" x2="46.20" y2="605.90" stroke="#8c8c8c" stroke-width="1" />
<text x="37.60" y="609.60" font-size="8.9" fill="#111" stroke="#111" stroke-width="0.12" font-weight="bold" text-anchor="end" >-2</text>
<line x1="43.90" y1="618.20" x2="46.20" y2="618.20" stroke="#8c8c8c" stroke-width="1" />
<text x="37.60" y="621.90" font-size="8.9" fill="#111" stroke="#111" stroke-width="0.12" font-weight="bold" text-anchor="end" >-4</text>
<line x1="43.90" y1="630.50" x2="46.20" y2="630.50" stroke="#8c8c8c" stroke-width="1" />
<text x="37.60" y="634.20" font-size="8.9" fill="#111" stroke="#111" stroke-width="0.12" font-weight="bold" text-anchor="end" >-6</text>
<line x1="43.90" y1="642.80" x2="46.20" y2="642.80" stroke="#8c8c8c" stroke-width="1" />
<text x="37.60" y="646.50" font-size="8.9" fill="#111" stroke="#111" stroke-width="0.12" font-weight="bold" text-anchor="end" >-8</text>
<line x1="43.90" y1="655.10" x2="46.20" y2="655.10" stroke="#8c8c8c" stroke-width="1" />
<text x="37.60" y="658.80" font-size="8.9" fill="#111" stroke="#111" stroke-width="0.12" font-weight="bold" text-anchor="end" >-10</text>
<line x1="43.90" y1="667.40" x2="46.20" y2="667.40" stroke="#8c8c8c" stroke-width="1" />
<text x="37.60" y="671.10" font-size="8.9" fill="#111" stroke="#111" stroke-width="0.12" font-weight="bold" text-anchor="end" >-12</text>
<line x1="43.90" y1="679.70" x2="46.20" y2="679.70" stroke="#8c8c8c" stroke-width="1" />
<text x="37.60" y="683.40" font-size="8.9" fill="#111" stroke="#111" stroke-width="0.12" font-weight="bold" text-anchor="end" >-14</text>
<text transform="translate(19.30,598.00) rotate(-90)" x="0" y="0" font-size="8.6" fill="#000" stroke="#000" stroke-width="0.12" font-weight="bold" text-anchor="middle" textLength="102.60" lengthAdjust="spacingAndGlyphs">log2 reads d14 / reads d0</text>
<text x="119.9" y="525.7" font-size="8.8" font-weight="bold" fill="#111" textLength="35.2" lengthAdjust="spacingAndGlyphs">cKit<tspan dy="-3.3" font-size="5.8">+</tspan><tspan dy="3.3"> BM</tspan></text>
<path d="M46.40,593.50 L46.40,671.00 L46.41,670.92 L46.41,670.84 L46.41,670.75 L46.41,670.65 L46.41,670.54 L46.42,670.41 L46.43,670.26 L46.44,670.08 L46.47,669.87 L46.50,669.62 L46.54,669.33 L46.60,669.00 L46.67,668.61 L46.76,668.17 L46.85,667.67 L46.96,667.14 L47.08,666.58 L47.20,665.99 L47.32,665.38 L47.45,664.77 L47.57,664.16 L47.69,663.55 L47.80,662.96 L47.90,662.40 L47.99,661.85 L48.08,661.30 L48.17,660.75 L48.26,660.20 L48.34,659.65 L48.42,659.10 L48.50,658.55 L48.58,658.00 L48.66,657.45 L48.74,656.90 L48.82,656.35 L48.90,655.80 L48.98,655.25 L49.07,654.70 L49.16,654.15 L49.25,653.60 L49.34,653.05 L49.43,652.50 L49.51,651.95 L49.60,651.40 L49.68,650.85 L49.76,650.30 L49.83,649.75 L49.90,649.20 L49.96,648.65 L50.02,648.10 L50.08,647.55 L50.13,647.00 L50.17,646.45 L50.22,645.90 L50.26,645.35 L50.31,644.80 L50.35,644.25 L50.40,643.70 L50.45,643.15 L50.50,642.60 L50.56,642.05 L50.61,641.50 L50.67,640.95 L50.73,640.40 L50.79,639.84 L50.85,639.29 L50.91,638.74 L50.97,638.19 L51.03,637.64 L51.09,637.09 L51.14,636.55 L51.20,636.00 L51.25,635.46 L51.30,634.91 L51.35,634.37 L51.40,633.83 L51.45,633.29 L51.50,632.75 L51.55,632.21 L51.60,631.67 L51.65,631.13 L51.70,630.59 L51.75,630.04 L51.80,629.50 L51.85,628.95 L51.90,628.41 L51.94,627.86 L51.98,627.31 L52.02,626.76 L52.06,626.21 L52.11,625.66 L52.17,625.10 L52.23,624.55 L52.31,624.00 L52.40,623.45 L52.50,622.90 L52.62,622.34 L52.75,621.76 L52.89,621.16 L53.05,620.56 L53.21,619.96 L53.38,619.37 L53.56,618.79 L53.74,618.23 L53.93,617.69 L54.12,617.19 L54.31,616.72 L54.50,616.30 L54.69,615.93 L54.88,615.60 L55.08,615.31 L55.27,615.05 L55.47,614.81 L55.68,614.60 L55.89,614.40 L56.11,614.21 L56.34,614.02 L56.58,613.82 L56.84,613.62 L57.10,613.40 L57.37,613.18 L57.65,612.96 L57.94,612.75 L58.23,612.54 L58.54,612.34 L58.85,612.13 L59.17,611.92 L59.51,611.71 L59.86,611.50 L60.23,611.28 L60.60,611.04 L61.00,610.80 L61.39,610.54 L61.77,610.27 L62.14,609.98 L62.52,609.69 L62.91,609.39 L63.32,609.09 L63.76,608.79 L64.25,608.49 L64.79,608.20 L65.38,607.92 L66.05,607.65 L66.80,607.40 L67.64,607.16 L68.57,606.93 L69.58,606.70 L70.66,606.47 L71.79,606.26 L72.95,606.05 L74.14,605.85 L75.34,605.66 L76.54,605.48 L77.73,605.31 L78.88,605.15 L80.00,605.00 L81.06,604.87 L82.07,604.77 L83.05,604.69 L84.01,604.63 L84.98,604.58 L85.95,604.52 L86.96,604.47 L88.01,604.41 L89.12,604.34 L90.31,604.25 L91.60,604.14 L93.00,604.00 L94.52,603.83 L96.17,603.63 L97.91,603.41 L99.74,603.18 L101.63,602.93 L103.56,602.67 L105.52,602.42 L107.48,602.16 L109.43,601.90 L111.34,601.65 L113.21,601.42 L115.00,601.20 L116.77,601.00 L118.56,600.80 L120.38,600.61 L122.19,600.43 L123.98,600.26 L125.75,600.08 L127.48,599.91 L129.15,599.73 L130.75,599.56 L132.27,599.38 L133.69,599.19 L135.00,599.00 L136.19,598.80 L137.28,598.61 L138.27,598.41 L139.19,598.21 L140.03,598.00 L140.81,597.80 L141.55,597.59 L142.26,597.38 L142.95,597.17 L143.62,596.95 L144.30,596.73 L145.00,596.50 L145.71,596.26 L146.42,595.99 L147.12,595.71 L147.81,595.43 L148.48,595.13 L149.12,594.84 L149.73,594.56 L150.30,594.30 L150.81,594.05 L151.27,593.83 L151.67,593.65 L152.00,593.50 L152.38,593.36 L152.85,593.20 L153.39,593.01 L154.00,592.79 L154.66,592.56 L155.38,592.31 L156.12,592.04 L156.89,591.76 L157.67,591.48 L158.46,591.19 L159.24,590.89 L160.00,590.60 L160.74,590.31 L161.46,590.03 L162.17,589.75 L162.89,589.47 L163.62,589.17 L164.38,588.87 L165.16,588.55 L166.00,588.20 L166.89,587.83 L167.85,587.42 L168.88,586.98 L170.00,586.50 L171.22,585.97 L172.53,585.39 L173.91,584.77 L175.37,584.12 L176.88,583.44 L178.44,582.74 L180.02,582.03 L181.63,581.31 L183.24,580.59 L184.85,579.88 L186.44,579.18 L188.00,578.50 L189.57,577.82 L191.18,577.13 L192.82,576.42 L194.48,575.70 L196.15,574.99 L197.81,574.28 L199.46,573.59 L201.07,572.91 L202.65,572.25 L204.17,571.63 L205.62,571.04 L207.00,570.50 L208.30,570.00 L209.53,569.55 L210.71,569.13 L211.83,568.74 L212.92,568.38 L213.97,568.03 L214.99,567.70 L216.00,567.37 L217.00,567.04 L217.99,566.71 L218.99,566.36 L220.00,566.00 L221.00,565.64 L221.96,565.29 L222.89,564.96 L223.80,564.63 L224.70,564.30 L225.59,563.97 L226.50,563.62 L227.43,563.26 L228.38,562.87 L229.37,562.45 L230.41,562.00 L231.50,561.50 L232.68,560.95 L233.94,560.33 L235.27,559.68 L236.65,558.98 L238.05,558.26 L239.47,557.53 L240.87,556.80 L242.24,556.07 L243.56,555.37 L244.80,554.70 L245.96,554.07 L247.00,553.50 L247.94,552.98 L248.80,552.52 L249.59,552.09 L250.31,551.69 L250.99,551.31 L251.62,550.94 L252.22,550.57 L252.80,550.20 L253.35,549.82 L253.90,549.41 L254.44,548.98 L255.00,548.50 L255.55,547.99 L256.08,547.46 L256.60,546.91 L257.09,546.35 L257.57,545.78 L258.03,545.19 L258.48,544.59 L258.91,543.98 L259.32,543.37 L259.73,542.75 L260.12,542.12 L260.50,541.50 L260.86,540.86 L261.21,540.21 L261.54,539.54 L261.85,538.85 L262.15,538.16 L262.44,537.47 L262.71,536.78 L262.98,536.09 L263.24,535.42 L263.50,534.76 L263.75,534.12 L264.00,533.50 L264.25,532.90 L264.49,532.30 L264.73,531.71 L264.96,531.13 L265.18,530.56 L265.39,530.00 L265.60,529.46 L265.80,528.93 L265.99,528.41 L266.17,527.92 L266.34,527.45 L266.50,527.00 L266.65,526.57 L266.79,526.14 L266.92,525.73 L267.04,525.33 L267.15,524.95 L267.26,524.59 L267.35,524.26 L267.44,523.94 L267.51,523.66 L267.58,523.41 L267.65,523.19 L267.70,523.00 L267.70,593.50 Z" fill="url(#gE1)"/>
<path d="M55.27,615.05 L55.47,614.81 L55.68,614.60 L55.89,614.40 L56.11,614.21 L56.34,614.02 L56.58,613.82 L56.84,613.62 L57.10,613.40 L57.37,613.18 L57.65,612.96 L57.94,612.75 L58.23,612.54 L58.54,612.34 L58.85,612.13 L59.17,611.92 L59.51,611.71 L59.86,611.50 L60.23,611.28 L60.60,611.04 L61.00,610.80 L61.39,610.54 L61.77,610.27 L62.14,609.98 L62.52,609.69 L62.91,609.39 L63.32,609.09 L63.76,608.79 L64.25,608.49 L64.79,608.20 L65.38,607.92 L66.05,607.65 L66.80,607.40 L67.64,607.16 L68.57,606.93 L69.58,606.70 L70.66,606.47 L71.79,606.26 L72.95,606.05 L74.14,605.85 L75.34,605.66 L76.54,605.48 L77.73,605.31 L78.88,605.15 L80.00,605.00 L81.06,604.87 L82.07,604.77 L83.05,604.69 L84.01,604.63 L84.98,604.58 L85.95,604.52 L86.96,604.47 L88.01,604.41 L89.12,604.34 L90.31,604.25 L91.60,604.14 L93.00,604.00 L94.52,603.83 L96.17,603.63 L97.91,603.41 L99.74,603.18 L101.63,602.93 L103.56,602.67 L105.52,602.42 L107.48,602.16 L109.43,601.90 L111.34,601.65 L113.21,601.42 L115.00,601.20 L116.77,601.00 L118.56,600.80 L120.38,600.61 L122.19,600.43 L123.98,600.26 L125.75,600.08 L127.48,599.91 L129.15,599.73 L130.75,599.56 L132.27,599.38 L133.69,599.19 L135.00,599.00 L136.19,598.80 L137.28,598.61 L138.27,598.41 L139.19,598.21 L140.03,598.00 L140.81,597.80 L141.55,597.59 L142.26,597.38 L142.95,597.17 L143.62,596.95 L144.30,596.73 L145.00,596.50 L145.71,596.26 L146.42,595.99 L147.12,595.71 L147.81,595.43 L148.48,595.13 L149.12,594.84 L149.73,594.56 L150.30,594.30 L150.81,594.05 L151.27,593.83 L151.67,593.65 L152.00,593.50 L152.38,593.36 L152.85,593.20 L153.39,593.01 L154.00,592.79 L154.66,592.56 L155.38,592.31 L156.12,592.04 L156.89,591.76 L157.67,591.48 L158.46,591.19 L159.24,590.89 L160.00,590.60 L160.74,590.31 L161.46,590.03 L162.17,589.75 L162.89,589.47 L163.62,589.17 L164.38,588.87 L165.16,588.55 L166.00,588.20 L166.89,587.83 L167.85,587.42 L168.88,586.98 L170.00,586.50 L171.22,585.97 L172.53,585.39 L173.91,584.77 L175.37,584.12 L176.88,583.44 L178.44,582.74 L180.02,582.03 L181.63,581.31 L183.24,580.59 L184.85,579.88 L186.44,579.18 L188.00,578.50 L189.57,577.82 L191.18,577.13 L192.82,576.42 L194.48,575.70 L196.15,574.99 L197.81,574.28 L199.46,573.59 L201.07,572.91 L202.65,572.25 L204.17,571.63 L205.62,571.04 L207.00,570.50 L208.30,570.00 L209.53,569.55 L210.71,569.13 L211.83,568.74 L212.92,568.38 L213.97,568.03 L214.99,567.70 L216.00,567.37 L217.00,567.04 L217.99,566.71 L218.99,566.36 L220.00,566.00 L221.00,565.64 L221.96,565.29 L222.89,564.96 L223.80,564.63 L224.70,564.30 L225.59,563.97 L226.50,563.62 L227.43,563.26 L228.38,562.87 L229.37,562.45 L230.41,562.00 L231.50,561.50 L232.68,560.95 L233.94,560.33 L235.27,559.68 L236.65,558.98 L238.05,558.26 L239.47,557.53 L240.87,556.80 L242.24,556.07 L243.56,555.37 L244.80,554.70 L245.96,554.07 L247.00,553.50 L247.94,552.98 L248.80,552.52 L249.59,552.09 L250.31,551.69 L250.99,551.31 L251.62,550.94 L252.22,550.57 L252.80,550.20 L253.35,549.82 L253.90,549.41 L254.44,548.98 L255.00,548.50 L255.55,547.99 L256.08,547.46 L256.60,546.91 L257.09,546.35" fill="none" stroke="#fff" stroke-opacity="0.6" stroke-width="2.2" stroke-linecap="round" filter="url(#soft)"/>
<line x1="52.30" y1="593.50" x2="52.30" y2="624.05" stroke="#d4894a" stroke-width="1.1" />
<line x1="56.40" y1="593.50" x2="56.40" y2="613.97" stroke="#d8b090" stroke-width="1.1" />
<line x1="61.20" y1="593.50" x2="61.20" y2="610.67" stroke="#d4894a" stroke-width="1.1" />
<line x1="115.00" y1="593.50" x2="115.00" y2="601.20" stroke="#2444b4" stroke-width="1.1" />
<line x1="135.30" y1="593.50" x2="135.30" y2="598.95" stroke="#2f7f3f" stroke-width="1.1" />
<line x1="188.00" y1="593.50" x2="188.00" y2="578.50" stroke="#d4894a" stroke-width="1.1" />
<line x1="207.00" y1="593.50" x2="207.00" y2="570.50" stroke="#2444b4" stroke-width="1.1" />
<line x1="210.30" y1="593.50" x2="210.30" y2="569.27" stroke="#2f7f3f" stroke-width="1.1" />
<line x1="231.80" y1="593.50" x2="231.80" y2="561.36" stroke="#2444b4" stroke-width="1.1" />
<line x1="246.90" y1="593.50" x2="246.90" y2="553.55" stroke="#2444b4" stroke-width="1.1" />
<text x="131.50" y="589.60" font-size="8.8" fill="#2a822a" font-weight="bold" textLength="13.00" lengthAdjust="spacingAndGlyphs" >Scr</text>
<text x="104.20" y="612.30" font-size="8.8" fill="#2424aa" font-weight="bold" textLength="28.20" lengthAdjust="spacingAndGlyphs" >Jmjd1c</text>
<text x="59.60" y="620.20" font-size="8.8" fill="#e07a28" font-weight="bold" textLength="25.40" lengthAdjust="spacingAndGlyphs" >Polr2b</text>
<text x="53.60" y="634.80" font-size="8.8" fill="#e07a28" font-weight="bold" textLength="20.00" lengthAdjust="spacingAndGlyphs" >Rpa3</text>
<text x="178.90" y="574.20" font-size="8.8" fill="#e07a28" font-weight="bold" textLength="18.30" lengthAdjust="spacingAndGlyphs" >Pcna</text>
<text x="193.00" y="566.60" font-size="8.8" fill="#2424aa" font-weight="bold" textLength="27.80" lengthAdjust="spacingAndGlyphs" >Jmjd1c</text>
<text x="210.30" y="558.40" font-size="8.8" fill="#2424aa" font-weight="bold" textLength="26.80" lengthAdjust="spacingAndGlyphs" >Jmjd1c</text>
<text x="227.30" y="548.00" font-size="8.8" fill="#2424aa" font-weight="bold" textLength="27.70" lengthAdjust="spacingAndGlyphs" >Jmjd1c</text>
<text x="181.50" y="605.80" font-size="8.8" fill="#2a822a" font-weight="bold" textLength="11.50" lengthAdjust="spacingAndGlyphs" >Scr</text>
<text x="207.00" y="605.80" font-size="8.8" fill="#2a822a" font-weight="bold" textLength="12.00" lengthAdjust="spacingAndGlyphs" >Scr</text>
<line x1="308.30" y1="520.00" x2="308.30" y2="679.60" stroke="#8c8c8c" stroke-width="1" />
<line x1="306.00" y1="520.00" x2="308.30" y2="520.00" stroke="#8c8c8c" stroke-width="1" />
<text x="299.40" y="523.70" font-size="8.9" fill="#111" stroke="#111" stroke-width="0.12" font-weight="bold" text-anchor="end" >12</text>
<line x1="306.00" y1="533.30" x2="308.30" y2="533.30" stroke="#8c8c8c" stroke-width="1" />
<text x="299.40" y="537.00" font-size="8.9" fill="#111" stroke="#111" stroke-width="0.12" font-weight="bold" text-anchor="end" >10</text>
<line x1="306.00" y1="546.60" x2="308.30" y2="546.60" stroke="#8c8c8c" stroke-width="1" />
<text x="299.40" y="550.30" font-size="8.9" fill="#111" stroke="#111" stroke-width="0.12" font-weight="bold" text-anchor="end" >8</text>
<line x1="306.00" y1="559.90" x2="308.30" y2="559.90" stroke="#8c8c8c" stroke-width="1" />
<text x="299.40" y="563.60" font-size="8.9" fill="#111" stroke="#111" stroke-width="0.12" font-weight="bold" text-anchor="end" >6</text>
<line x1="306.00" y1="573.20" x2="308.30" y2="573.20" stroke="#8c8c8c" stroke-width="1" />
<text x="299.40" y="576.90" font-size="8.9" fill="#111" stroke="#111" stroke-width="0.12" font-weight="bold" text-anchor="end" >4</text>
<line x1="306.00" y1="586.50" x2="308.30" y2="586.50" stroke="#8c8c8c" stroke-width="1" />
<text x="299.40" y="590.20" font-size="8.9" fill="#111" stroke="#111" stroke-width="0.12" font-weight="bold" text-anchor="end" >2</text>
<line x1="306.00" y1="599.80" x2="308.30" y2="599.80" stroke="#8c8c8c" stroke-width="1" />
<text x="299.40" y="603.50" font-size="8.9" fill="#111" stroke="#111" stroke-width="0.12" font-weight="bold" text-anchor="end" >0</text>
<line x1="306.00" y1="613.10" x2="308.30" y2="613.10" stroke="#8c8c8c" stroke-width="1" />
<text x="299.40" y="616.80" font-size="8.9" fill="#111" stroke="#111" stroke-width="0.12" font-weight="bold" text-anchor="end" >-2</text>
<line x1="306.00" y1="626.40" x2="308.30" y2="626.40" stroke="#8c8c8c" stroke-width="1" />
<text x="299.40" y="630.10" font-size="8.9" fill="#111" stroke="#111" stroke-width="0.12" font-weight="bold" text-anchor="end" >-4</text>
<line x1="306.00" y1="639.70" x2="308.30" y2="639.70" stroke="#8c8c8c" stroke-width="1" />
<text x="299.40" y="643.40" font-size="8.9" fill="#111" stroke="#111" stroke-width="0.12" font-weight="bold" text-anchor="end" >-6</text>
<line x1="306.00" y1="653.00" x2="308.30" y2="653.00" stroke="#8c8c8c" stroke-width="1" />
<text x="299.40" y="656.70" font-size="8.9" fill="#111" stroke="#111" stroke-width="0.12" font-weight="bold" text-anchor="end" >-8</text>
<line x1="306.00" y1="666.30" x2="308.30" y2="666.30" stroke="#8c8c8c" stroke-width="1" />
<text x="299.40" y="670.00" font-size="8.9" fill="#111" stroke="#111" stroke-width="0.12" font-weight="bold" text-anchor="end" >-10</text>
<line x1="306.00" y1="679.60" x2="308.30" y2="679.60" stroke="#8c8c8c" stroke-width="1" />
<text x="299.40" y="683.30" font-size="8.9" fill="#111" stroke="#111" stroke-width="0.12" font-weight="bold" text-anchor="end" >-12</text>
<text transform="translate(285.60,599.20) rotate(-90)" x="0" y="0" font-size="8.6" fill="#000" stroke="#000" stroke-width="0.12" font-weight="bold" text-anchor="middle" textLength="103.00" lengthAdjust="spacingAndGlyphs">log2 reads d14 / reads d0</text>
<text x="376.8" y="525.5" font-size="8.8" font-weight="bold" fill="#111" textLength="34.8" lengthAdjust="spacingAndGlyphs">cKit<tspan dy="-3.3" font-size="5.8">+</tspan><tspan dy="3.3"> BM</tspan></text>
<path d="M308.40,599.50 L308.40,674.00 L308.46,673.83 L308.54,673.64 L308.63,673.43 L308.74,673.20 L308.85,672.95 L308.97,672.66 L309.09,672.33 L309.22,671.96 L309.34,671.55 L309.47,671.09 L309.59,670.57 L309.70,670.00 L309.81,669.36 L309.92,668.65 L310.02,667.89 L310.13,667.07 L310.24,666.21 L310.35,665.31 L310.46,664.37 L310.57,663.42 L310.68,662.45 L310.78,661.46 L310.89,660.48 L311.00,659.50 L311.11,658.51 L311.22,657.49 L311.34,656.44 L311.46,655.38 L311.58,654.30 L311.69,653.20 L311.81,652.10 L311.92,650.99 L312.02,649.88 L312.12,648.78 L312.22,647.68 L312.30,646.60 L312.37,645.50 L312.43,644.37 L312.48,643.22 L312.53,642.06 L312.56,640.90 L312.60,639.74 L312.64,638.61 L312.67,637.52 L312.72,636.47 L312.77,635.47 L312.83,634.55 L312.90,633.70 L312.98,632.94 L313.06,632.26 L313.15,631.65 L313.23,631.09 L313.33,630.58 L313.43,630.10 L313.53,629.64 L313.64,629.20 L313.77,628.75 L313.90,628.30 L314.04,627.82 L314.20,627.30 L314.37,626.75 L314.55,626.18 L314.74,625.59 L314.95,624.99 L315.16,624.40 L315.38,623.81 L315.61,623.23 L315.84,622.67 L316.08,622.15 L316.32,621.65 L316.56,621.20 L316.80,620.80 L317.04,620.45 L317.29,620.14 L317.54,619.87 L317.80,619.63 L318.06,619.42 L318.32,619.24 L318.59,619.07 L318.87,618.91 L319.14,618.76 L319.43,618.61 L319.71,618.46 L320.00,618.30 L320.28,618.14 L320.55,617.99 L320.82,617.85 L321.08,617.71 L321.34,617.59 L321.62,617.47 L321.91,617.35 L322.22,617.24 L322.56,617.13 L322.93,617.02 L323.34,616.91 L323.80,616.80 L324.30,616.69 L324.85,616.58 L325.43,616.48 L326.05,616.38 L326.69,616.28 L327.36,616.18 L328.04,616.08 L328.73,615.99 L329.43,615.89 L330.13,615.80 L330.82,615.70 L331.50,615.60 L332.18,615.50 L332.85,615.41 L333.53,615.32 L334.22,615.23 L334.91,615.15 L335.61,615.06 L336.31,614.96 L337.03,614.87 L337.75,614.76 L338.49,614.65 L339.24,614.53 L340.00,614.40 L340.76,614.26 L341.52,614.11 L342.28,613.96 L343.04,613.80 L343.81,613.63 L344.59,613.46 L345.40,613.28 L346.24,613.10 L347.11,612.91 L348.03,612.71 L348.99,612.51 L350.00,612.30 L351.07,612.08 L352.21,611.84 L353.40,611.60 L354.63,611.34 L355.90,611.08 L357.19,610.81 L358.50,610.55 L359.81,610.28 L361.13,610.02 L362.44,609.77 L363.73,609.53 L365.00,609.30 L366.25,609.09 L367.50,608.89 L368.75,608.70 L370.00,608.52 L371.25,608.35 L372.50,608.17 L373.75,608.00 L375.00,607.82 L376.25,607.64 L377.50,607.44 L378.75,607.23 L380.00,607.00 L381.27,606.75 L382.58,606.49 L383.91,606.21 L385.26,605.93 L386.60,605.63 L387.94,605.33 L389.25,605.03 L390.52,604.73 L391.74,604.43 L392.91,604.14 L394.00,603.87 L395.00,603.60 L395.92,603.34 L396.78,603.08 L397.59,602.82 L398.33,602.57 L399.03,602.31 L399.69,602.07 L400.30,601.83 L400.89,601.60 L401.45,601.38 L401.98,601.17 L402.50,600.98 L403.00,600.80 L403.49,600.64 L403.94,600.48 L404.38,600.34 L404.78,600.21 L405.15,600.09 L405.50,599.97 L405.82,599.87 L406.11,599.78 L406.38,599.70 L406.61,599.62 L406.82,599.56 L407.00,599.50 L407.12,599.43 L407.25,599.36 L407.38,599.30 L407.52,599.22 L407.68,599.14 L407.88,599.03 L408.10,598.90 L408.37,598.74 L408.69,598.55 L409.06,598.32 L409.50,598.03 L410.00,597.70 L410.56,597.31 L411.15,596.86 L411.77,596.36 L412.44,595.82 L413.16,595.25 L413.94,594.64 L414.77,594.02 L415.67,593.38 L416.63,592.73 L417.67,592.08 L418.79,591.43 L420.00,590.80 L421.34,590.16 L422.83,589.50 L424.44,588.81 L426.16,588.12 L427.94,587.41 L429.77,586.71 L431.61,586.00 L433.43,585.30 L435.21,584.62 L436.92,583.95 L438.52,583.31 L440.00,582.70 L441.39,582.11 L442.73,581.53 L444.04,580.95 L445.31,580.39 L446.53,579.85 L447.71,579.31 L448.84,578.80 L449.91,578.30 L450.94,577.82 L451.92,577.36 L452.84,576.92 L453.70,576.50 L454.47,576.12 L455.14,575.78 L455.71,575.48 L456.21,575.21 L456.66,574.95 L457.08,574.71 L457.49,574.46 L457.90,574.21 L458.34,573.95 L458.82,573.67 L459.37,573.35 L460.00,573.00 L460.70,572.61 L461.45,572.19 L462.24,571.75 L463.06,571.30 L463.90,570.82 L464.77,570.34 L465.65,569.86 L466.53,569.37 L467.41,568.89 L468.29,568.41 L469.15,567.95 L470.00,567.50 L470.85,567.06 L471.72,566.61 L472.61,566.15 L473.50,565.70 L474.39,565.24 L475.28,564.80 L476.15,564.37 L477.00,563.95 L477.82,563.55 L478.59,563.17 L479.32,562.82 L480.00,562.50 L480.60,562.23 L481.10,562.00 L481.54,561.82 L481.93,561.67 L482.28,561.54 L482.62,561.41 L482.98,561.28 L483.35,561.14 L483.77,560.97 L484.26,560.77 L484.83,560.51 L485.50,560.20 L486.29,559.82 L487.18,559.39 L488.15,558.91 L489.19,558.39 L490.27,557.85 L491.38,557.29 L492.49,556.72 L493.59,556.17 L494.66,555.63 L495.69,555.11 L496.64,554.63 L497.50,554.20 L498.29,553.82 L499.04,553.47 L499.75,553.14 L500.43,552.84 L501.07,552.56 L501.69,552.29 L502.28,552.02 L502.85,551.74 L503.41,551.46 L503.95,551.17 L504.48,550.85 L505.00,550.50 L505.51,550.13 L506.00,549.73 L506.47,549.32 L506.93,548.89 L507.36,548.46 L507.78,548.02 L508.19,547.58 L508.57,547.14 L508.95,546.71 L509.31,546.29 L509.66,545.89 L510.00,545.50 L510.32,545.13 L510.62,544.78 L510.90,544.43 L511.17,544.09 L511.42,543.76 L511.66,543.44 L511.89,543.12 L512.11,542.80 L512.33,542.48 L512.55,542.16 L512.77,541.83 L513.00,541.50 L513.23,541.17 L513.46,540.85 L513.69,540.54 L513.91,540.22 L514.14,539.91 L514.36,539.59 L514.57,539.27 L514.77,538.94 L514.97,538.61 L515.16,538.25 L515.34,537.89 L515.50,537.50 L515.65,537.10 L515.79,536.68 L515.92,536.25 L516.04,535.81 L516.15,535.37 L516.26,534.91 L516.35,534.44 L516.45,533.96 L516.54,533.48 L516.63,532.99 L516.71,532.50 L516.80,532.00 L516.88,531.48 L516.96,530.93 L517.03,530.35 L517.10,529.75 L517.16,529.15 L517.22,528.55 L517.28,527.96 L517.34,527.39 L517.40,526.85 L517.46,526.35 L517.53,525.90 L517.60,525.50 L517.68,525.16 L517.75,524.86 L517.83,524.59 L517.90,524.36 L517.98,524.16 L518.06,523.99 L518.14,523.83 L518.23,523.69 L518.32,523.56 L518.41,523.44 L518.50,523.32 L518.60,523.20 L518.71,523.08 L518.83,522.98 L518.95,522.90 L519.09,522.82 L519.23,522.76 L519.36,522.71 L519.50,522.66 L519.62,522.62 L519.74,522.59 L519.84,522.56 L519.93,522.53 L520.00,522.50 L520.00,599.50 Z" fill="url(#gE2)"/>
<path d="M317.29,620.14 L317.54,619.87 L317.80,619.63 L318.06,619.42 L318.32,619.24 L318.59,619.07 L318.87,618.91 L319.14,618.76 L319.43,618.61 L319.71,618.46 L320.00,618.30 L320.28,618.14 L320.55,617.99 L320.82,617.85 L321.08,617.71 L321.34,617.59 L321.62,617.47 L321.91,617.35 L322.22,617.24 L322.56,617.13 L322.93,617.02 L323.34,616.91 L323.80,616.80 L324.30,616.69 L324.85,616.58 L325.43,616.48 L326.05,616.38 L326.69,616.28 L327.36,616.18 L328.04,616.08 L328.73,615.99 L329.43,615.89 L330.13,615.80 L330.82,615.70 L331.50,615.60 L332.18,615.50 L332.85,615.41 L333.53,615.32 L334.22,615.23 L334.91,615.15 L335.61,615.06 L336.31,614.96 L337.03,614.87 L337.75,614.76 L338.49,614.65 L339.24,614.53 L340.00,614.40 L340.76,614.26 L341.52,614.11 L342.28,613.96 L343.04,613.80 L343.81,613.63 L344.59,613.46 L345.40,613.28 L346.24,613.10 L347.11,612.91 L348.03,612.71 L348.99,612.51 L350.00,612.30 L351.07,612.08 L352.21,611.84 L353.40,611.60 L354.63,611.34 L355.90,611.08 L357.19,610.81 L358.50,610.55 L359.81,610.28 L361.13,610.02 L362.44,609.77 L363.73,609.53 L365.00,609.30 L366.25,609.09 L367.50,608.89 L368.75,608.70 L370.00,608.52 L371.25,608.35 L372.50,608.17 L373.75,608.00 L375.00,607.82 L376.25,607.64 L377.50,607.44 L378.75,607.23 L380.00,607.00 L381.27,606.75 L382.58,606.49 L383.91,606.21 L385.26,605.93 L386.60,605.63 L387.94,605.33 L389.25,605.03 L390.52,604.73 L391.74,604.43 L392.91,604.14 L394.00,603.87 L395.00,603.60 L395.92,603.34 L396.78,603.08 L397.59,602.82 L398.33,602.57 L399.03,602.31 L399.69,602.07 L400.30,601.83 L400.89,601.60 L401.45,601.38 L401.98,601.17 L402.50,600.98 L403.00,600.80 L403.49,600.64 L403.94,600.48 L404.38,600.34 L404.78,600.21 L405.15,600.09 L405.50,599.97 L405.82,599.87 L406.11,599.78 L406.38,599.70 L406.61,599.62 L406.82,599.56 L407.00,599.50 L407.12,599.43 L407.25,599.36 L407.38,599.30 L407.52,599.22 L407.68,599.14 L407.88,599.03 L408.10,598.90 L408.37,598.74 L408.69,598.55 L409.06,598.32 L409.50,598.03 L410.00,597.70 L410.56,597.31 L411.15,596.86 L411.77,596.36 L412.44,595.82 L413.16,595.25 L413.94,594.64 L414.77,594.02 L415.67,593.38 L416.63,592.73 L417.67,592.08 L418.79,591.43 L420.00,590.80 L421.34,590.16 L422.83,589.50 L424.44,588.81 L426.16,588.12 L427.94,587.41 L429.77,586.71 L431.61,586.00 L433.43,585.30 L435.21,584.62 L436.92,583.95 L438.52,583.31 L440.00,582.70 L441.39,582.11 L442.73,581.53 L444.04,580.95 L445.31,580.39 L446.53,579.85 L447.71,579.31 L448.84,578.80 L449.91,578.30 L450.94,577.82 L451.92,577.36 L452.84,576.92 L453.70,576.50 L454.47,576.12 L455.14,575.78 L455.71,575.48 L456.21,575.21 L456.66,574.95 L457.08,574.71 L457.49,574.46 L457.90,574.21 L458.34,573.95 L458.82,573.67 L459.37,573.35 L460.00,573.00 L460.70,572.61 L461.45,572.19 L462.24,571.75 L463.06,571.30 L463.90,570.82 L464.77,570.34 L465.65,569.86 L466.53,569.37 L467.41,568.89 L468.29,568.41 L469.15,567.95 L470.00,567.50 L470.85,567.06 L471.72,566.61 L472.61,566.15 L473.50,565.70 L474.39,565.24 L475.28,564.80 L476.15,564.37 L477.00,563.95 L477.82,563.55 L478.59,563.17 L479.32,562.82 L480.00,562.50 L480.60,562.23 L481.10,562.00 L481.54,561.82 L481.93,561.67 L482.28,561.54 L482.62,561.41 L482.98,561.28 L483.35,561.14 L483.77,560.97 L484.26,560.77 L484.83,560.51 L485.50,560.20 L486.29,559.82 L487.18,559.39 L488.15,558.91 L489.19,558.39 L490.27,557.85 L491.38,557.29 L492.49,556.72 L493.59,556.17 L494.66,555.63 L495.69,555.11 L496.64,554.63 L497.50,554.20 L498.29,553.82 L499.04,553.47 L499.75,553.14 L500.43,552.84 L501.07,552.56 L501.69,552.29 L502.28,552.02 L502.85,551.74 L503.41,551.46 L503.95,551.17 L504.48,550.85 L505.00,550.50 L505.51,550.13 L506.00,549.73 L506.47,549.32 L506.93,548.89 L507.36,548.46 L507.78,548.02 L508.19,547.58 L508.57,547.14 L508.95,546.71 L509.31,546.29 L509.66,545.89 L510.00,545.50 L510.32,545.13 L510.62,544.78" fill="none" stroke="#fff" stroke-opacity="0.6" stroke-width="2.2" stroke-linecap="round" filter="url(#soft)"/>
<path d="M518.60,523.20 L518.71,523.08 L518.83,522.98 L518.95,522.90 L519.09,522.82 L519.23,522.76 L519.36,522.71 L519.50,522.66 L519.62,522.62 L519.74,522.59 L519.84,522.56 L519.93,522.53 L520.00,522.50" fill="none" stroke="#fff" stroke-opacity="0.6" stroke-width="2.2" stroke-linecap="round" filter="url(#soft)"/>
<line x1="312.70" y1="599.50" x2="312.70" y2="636.89" stroke="#c09a80" stroke-width="1.0" />
<line x1="315.20" y1="599.50" x2="315.20" y2="624.29" stroke="#c09a80" stroke-width="1.0" />
<line x1="318.00" y1="599.50" x2="318.00" y2="619.47" stroke="#c09a80" stroke-width="1.0" />
<line x1="320.40" y1="599.50" x2="320.40" y2="618.07" stroke="#c09a80" stroke-width="1.0" />
<line x1="326.70" y1="599.50" x2="326.70" y2="616.28" stroke="#2f7f3f" stroke-width="1.0" />
<line x1="346.50" y1="599.50" x2="346.50" y2="613.04" stroke="#2444b4" stroke-width="1.0" />
<line x1="364.20" y1="599.50" x2="364.20" y2="609.44" stroke="#2f7f3f" stroke-width="1.0" />
<line x1="453.70" y1="599.50" x2="453.70" y2="576.50" stroke="#2444b4" stroke-width="1.0" />
<line x1="479.60" y1="599.50" x2="479.60" y2="562.69" stroke="#2f7f3f" stroke-width="1.0" />
<line x1="485.40" y1="599.50" x2="485.40" y2="560.25" stroke="#2444b4" stroke-width="1.0" />
<line x1="497.80" y1="599.50" x2="497.80" y2="554.05" stroke="#2444b4" stroke-width="1.0" />
<text x="320.40" y="596.20" font-size="8.8" fill="#2a822a" font-weight="bold" textLength="12.80" lengthAdjust="spacingAndGlyphs" >Scr</text>
<text x="359.60" y="595.80" font-size="8.8" fill="#2a822a" font-weight="bold" textLength="12.00" lengthAdjust="spacingAndGlyphs" >Scr</text>
<text x="334.40" y="622.60" font-size="8.8" fill="#2424aa" font-weight="bold" textLength="27.20" lengthAdjust="spacingAndGlyphs" >Jmjd1c</text>
<text x="317.70" y="625.80" font-size="8.8" fill="#e07a28" font-weight="bold" textLength="18.60" lengthAdjust="spacingAndGlyphs" >Pcna</text>
<text x="316.20" y="634.20" font-size="8.8" fill="#e07a28" font-weight="bold" textLength="25.00" lengthAdjust="spacingAndGlyphs" >Polr2b</text>
<text x="312.30" y="642.00" font-size="8.8" fill="#e07a28" font-weight="bold" textLength="19.70" lengthAdjust="spacingAndGlyphs" >Rpa3</text>
<text x="432.30" y="573.00" font-size="8.8" fill="#2424aa" font-weight="bold" textLength="27.70" lengthAdjust="spacingAndGlyphs" >Jmjd1c</text>
<text x="466.60" y="556.30" font-size="8.8" fill="#2424aa" font-weight="bold" textLength="28.00" lengthAdjust="spacingAndGlyphs" >Jmjd1c</text>
<text x="482.60" y="545.80" font-size="8.8" fill="#2424aa" font-weight="bold" textLength="27.70" lengthAdjust="spacingAndGlyphs" >Jmjd1c</text>
<text x="475.30" y="610.00" font-size="8.8" fill="#2a822a" font-weight="bold" textLength="12.00" lengthAdjust="spacingAndGlyphs" >Scr</text>
</svg>
</body></html>
